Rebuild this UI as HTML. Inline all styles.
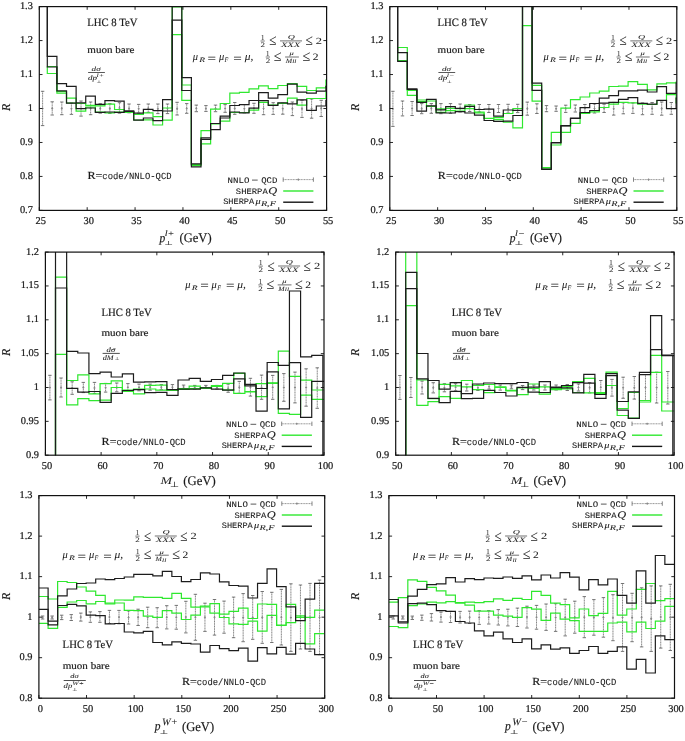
<!DOCTYPE html><html><head><meta charset="utf-8"><style>html,body{margin:0;padding:0;background:#fff;overflow:hidden;width:685px;height:741px}svg{display:block;will-change:transform}</style></head><body><svg width="685" height="741" viewBox="0 0 685 741">
<style>text{text-rendering:geometricPrecision;font-family:"Liberation Serif", serif;fill:#1a1a1a;stroke:#1a1a1a;stroke-width:0.18px}.tl{font-size:10.4px;stroke-width:0.22px}.lab{font-size:12px}.it{font-style:italic}.mono{font-family:"Liberation Mono", monospace;font-size:9px}</style>
<rect width="685" height="741" fill="#fff"/>
<defs>
<clipPath id="cp1"><rect x="39.3" y="6.6" width="287.3" height="203.8"/></clipPath>
<clipPath id="cp2"><rect x="389.8" y="6.6" width="287" height="203.8"/></clipPath>
<clipPath id="cp3"><rect x="45.4" y="252.1" width="278.6" height="203.1"/></clipPath>
<clipPath id="cp4"><rect x="395.7" y="252.1" width="278.4" height="203.1"/></clipPath>
<clipPath id="cp5"><rect x="38.9" y="495.6" width="285.8" height="202.6"/></clipPath>
<clipPath id="cp6"><rect x="388.9" y="495.6" width="285.6" height="202.6"/></clipPath>
</defs>
<g clip-path="url(#cp1)"><path d="M42.6 91.3V125.6M52.21 101.8V115M61.81 102V114.7M71.42 103V114.4M81.03 101V116.1M90.63 102V114.7M100.24 103.7V113.2M109.85 103.7V113.5M119.46 102.7V113.2M129.06 104V112.8M138.67 104.4V113.2M148.28 104V112.3M157.88 104V113.6M167.49 104V113.6M177.1 102.3V115M186.7 103.6V113.3M196.31 105.1V111.7M205.92 105.6V111.4M215.53 105.1V111.7M225.13 104.6V112.3M234.74 102.5V114.3M244.35 104.6V112.9M253.95 103.3V113.3M263.56 102.4V114.7M273.17 102.7V114.4M282.77 103.1V114.2M292.38 102V115.6M301.99 100.3V117.4M311.6 99V118.2M321.2 100.3V116.5" stroke="#777" stroke-width="0.9" stroke-dasharray="1.2 0.45" fill="none"/><path d="M40.9 91.3h3.4M40.9 125.6h3.4M50.51 101.8h3.4M50.51 115h3.4M60.11 102h3.4M60.11 114.7h3.4M69.72 103h3.4M69.72 114.4h3.4M79.33 101h3.4M79.33 116.1h3.4M88.93 102h3.4M88.93 114.7h3.4M98.54 103.7h3.4M98.54 113.2h3.4M108.15 103.7h3.4M108.15 113.5h3.4M117.76 102.7h3.4M117.76 113.2h3.4M127.36 104h3.4M127.36 112.8h3.4M136.97 104.4h3.4M136.97 113.2h3.4M146.58 104h3.4M146.58 112.3h3.4M156.18 104h3.4M156.18 113.6h3.4M165.79 104h3.4M165.79 113.6h3.4M175.4 102.3h3.4M175.4 115h3.4M185 103.6h3.4M185 113.3h3.4M194.61 105.1h3.4M194.61 111.7h3.4M204.22 105.6h3.4M204.22 111.4h3.4M213.83 105.1h3.4M213.83 111.7h3.4M223.43 104.6h3.4M223.43 112.3h3.4M233.04 102.5h3.4M233.04 114.3h3.4M242.65 104.6h3.4M242.65 112.9h3.4M252.25 103.3h3.4M252.25 113.3h3.4M261.86 102.4h3.4M261.86 114.7h3.4M271.47 102.7h3.4M271.47 114.4h3.4M281.07 103.1h3.4M281.07 114.2h3.4M290.68 102h3.4M290.68 115.6h3.4M300.29 100.3h3.4M300.29 117.4h3.4M309.9 99h3.4M309.9 118.2h3.4M319.5 100.3h3.4M319.5 116.5h3.4" stroke="#666" stroke-width="0.9" fill="none"/><path d="M42.6 107.15l1.2 1.3-1.2 1.3-1.2-1.3zM52.21 107.1l1.2 1.3-1.2 1.3-1.2-1.3zM61.81 107.05l1.2 1.3-1.2 1.3-1.2-1.3zM71.42 107.4l1.2 1.3-1.2 1.3-1.2-1.3zM81.03 107.25l1.2 1.3-1.2 1.3-1.2-1.3zM90.63 107.05l1.2 1.3-1.2 1.3-1.2-1.3zM100.24 107.15l1.2 1.3-1.2 1.3-1.2-1.3zM109.85 107.3l1.2 1.3-1.2 1.3-1.2-1.3zM119.46 106.65l1.2 1.3-1.2 1.3-1.2-1.3zM129.06 107.1l1.2 1.3-1.2 1.3-1.2-1.3zM138.67 107.5l1.2 1.3-1.2 1.3-1.2-1.3zM148.28 106.85l1.2 1.3-1.2 1.3-1.2-1.3zM157.88 107.5l1.2 1.3-1.2 1.3-1.2-1.3zM167.49 107.5l1.2 1.3-1.2 1.3-1.2-1.3zM177.1 107.35l1.2 1.3-1.2 1.3-1.2-1.3zM186.7 107.15l1.2 1.3-1.2 1.3-1.2-1.3zM196.31 107.1l1.2 1.3-1.2 1.3-1.2-1.3zM205.92 107.2l1.2 1.3-1.2 1.3-1.2-1.3zM215.53 107.1l1.2 1.3-1.2 1.3-1.2-1.3zM225.13 107.15l1.2 1.3-1.2 1.3-1.2-1.3zM234.74 107.1l1.2 1.3-1.2 1.3-1.2-1.3zM244.35 107.45l1.2 1.3-1.2 1.3-1.2-1.3zM253.95 107l1.2 1.3-1.2 1.3-1.2-1.3zM263.56 107.25l1.2 1.3-1.2 1.3-1.2-1.3zM273.17 107.25l1.2 1.3-1.2 1.3-1.2-1.3zM282.77 107.35l1.2 1.3-1.2 1.3-1.2-1.3zM292.38 107.5l1.2 1.3-1.2 1.3-1.2-1.3zM301.99 107.55l1.2 1.3-1.2 1.3-1.2-1.3zM311.6 107.3l1.2 1.3-1.2 1.3-1.2-1.3zM321.2 107.1l1.2 1.3-1.2 1.3-1.2-1.3z" fill="#888"/></g>
<path d="M47.3 66.5H56.91V91.5H66.51V98.2H76.12V103.5H85.73V105.4H95.33V105.8H104.94V104.1H114.55V109.5H124.16V111.5H133.76V114.3H143.37V112.9H152.98V116.7H162.58V108H172.19V6.9H181.8V85H191.4V164.5H201.01V130.6H210.62V109.2H220.23V103.5H229.83V93.2H239.44V92.3H249.05V88.8H258.65V85.9H268.26V88.6H277.87V85.5H287.47V83.6H297.08V86.3H306.69V90.5H316.3V87.8H325.9V80.1H335.51" stroke="#2fe82f" stroke-width="1.2" fill="none" clip-path="url(#cp1)"/>
<path d="M47.3 66.5V73.5H56.91V93.1H66.51V103H76.12V111.1H85.73V107H95.33V112H104.94V112.8H114.55V112H124.16V112.5H133.76V120H143.37V119.8H152.98V125H162.58V120.2H172.19V34.6H181.8V100.4H191.4V165.4H201.01V143.9H210.62V124H220.23V121.2H229.83V112.5H239.44V112.5H249.05V110.1H258.65V102.4H268.26V105H277.87V103.3H287.47V98.1H297.08V105.1H306.69V98.5H316.3V98.5H325.9V92H335.51" stroke="#2fe82f" stroke-width="1.2" fill="none" clip-path="url(#cp1)"/>
<path d="M39.3 -20H47.3V56.3H56.91V83.7H66.51V86.3H76.12V102.9H85.73V96.2H95.33V104.3H104.94V100.6H114.55V101.2H124.16V110.8H133.76V113.2H143.37V109.4H152.98V110.6H162.58V99.6H172.19V-20H181.8V77.6H191.4V163.8H201.01V137.8H210.62V123.5H220.23V116.2H229.83V105.5H239.44V104.6H249.05V100.5H258.65V92.6H268.26V98.2H277.87V94.6H287.47V84.1H297.08V92.2H306.69V93.1H316.3V91.1H325.9V86.3H335.51" stroke="#1c1c1c" stroke-width="1.2" fill="none" clip-path="url(#cp1)"/>
<path d="M39.3 -20H47.3V67H56.91V90.9H66.51V103.2H76.12V108.7H85.73V108H95.33V112.4H104.94V112H114.55V112.3H124.16V111.5H133.76V120.2H143.37V118H152.98V120.6H162.58V111H172.19V20.1H181.8V90.5H191.4V166.9H201.01V139.3H210.62V129.6H220.23V118H229.83V112H239.44V112.9H249.05V108.1H258.65V100.6H268.26V105.3H277.87V102.9H287.47V103.8H297.08V99.8H306.69V110.3H316.3V106H325.9V100.3H335.51" stroke="#1c1c1c" stroke-width="1.2" fill="none" clip-path="url(#cp1)"/>
<path d="M39.3 210.4v-3.2M39.3 6.6v3.2M87.18 210.4v-3.2M87.18 6.6v3.2M135.07 210.4v-3.2M135.07 6.6v3.2M182.95 210.4v-3.2M182.95 6.6v3.2M230.83 210.4v-3.2M230.83 6.6v3.2M278.72 210.4v-3.2M278.72 6.6v3.2M326.6 210.4v-3.2M326.6 6.6v3.2M39.3 210.4h3.2M326.6 210.4h-3.2M39.3 176.43h3.2M326.6 176.43h-3.2M39.3 142.47h3.2M326.6 142.47h-3.2M39.3 108.5h3.2M326.6 108.5h-3.2M39.3 74.53h3.2M326.6 74.53h-3.2M39.3 40.57h3.2M326.6 40.57h-3.2M39.3 6.6h3.2M326.6 6.6h-3.2" stroke="#111" stroke-width="0.9" fill="none"/>
<rect x="39.3" y="6.6" width="287.3" height="203.8" fill="none" stroke="#111" stroke-width="1.2"/>
<text x="40.8" y="223.8" text-anchor="middle" class="tl">25</text>
<text x="88.68" y="223.8" text-anchor="middle" class="tl">30</text>
<text x="136.57" y="223.8" text-anchor="middle" class="tl">35</text>
<text x="184.45" y="223.8" text-anchor="middle" class="tl">40</text>
<text x="232.33" y="223.8" text-anchor="middle" class="tl">45</text>
<text x="280.22" y="223.8" text-anchor="middle" class="tl">50</text>
<text x="328.1" y="223.8" text-anchor="middle" class="tl">55</text>
<text x="32.9" y="212.9" text-anchor="end" class="tl">0.7</text>
<text x="32.9" y="178.93" text-anchor="end" class="tl">0.8</text>
<text x="32.9" y="144.97" text-anchor="end" class="tl">0.9</text>
<text x="32.9" y="111" text-anchor="end" class="tl">1</text>
<text x="32.9" y="77.03" text-anchor="end" class="tl">1.1</text>
<text x="32.9" y="43.07" text-anchor="end" class="tl">1.2</text>
<text x="32.9" y="9.1" text-anchor="end" class="tl">1.3</text>
<g clip-path="url(#cp2)"><path d="M392.9 91.3V126.4M402.5 101V115.9M412.1 101.5V115.5M421.7 103.6V113.7M431.3 103.6V113.3M440.9 103.6V113.7M450.5 103.6V113.3M460.1 104V112M469.7 104.5V111.5M479.3 104.5V112M488.9 104.5V112.5M498.5 104.5V112.5M508.1 104.3V113M517.7 104.3V112.6M527.3 102.1V115.2M536.9 103.8V113.5M546.5 105.6V111.7M556.1 106V111.3M565.7 105.2V112.4M575.3 105V112M584.9 104.5V112.5M594.5 104V113M604.1 104.2V112.5M613.7 102.4V115.1M623.3 102.8V113.8M632.9 102.9V113.4M642.5 102.9V114.7M652.1 102.5V114.3M661.7 102V115.2M671.3 102.5V114.3" stroke="#777" stroke-width="0.9" stroke-dasharray="1.2 0.45" fill="none"/><path d="M391.2 91.3h3.4M391.2 126.4h3.4M400.8 101h3.4M400.8 115.9h3.4M410.4 101.5h3.4M410.4 115.5h3.4M420 103.6h3.4M420 113.7h3.4M429.6 103.6h3.4M429.6 113.3h3.4M439.2 103.6h3.4M439.2 113.7h3.4M448.8 103.6h3.4M448.8 113.3h3.4M458.4 104h3.4M458.4 112h3.4M468 104.5h3.4M468 111.5h3.4M477.6 104.5h3.4M477.6 112h3.4M487.2 104.5h3.4M487.2 112.5h3.4M496.8 104.5h3.4M496.8 112.5h3.4M506.4 104.3h3.4M506.4 113h3.4M516 104.3h3.4M516 112.6h3.4M525.6 102.1h3.4M525.6 115.2h3.4M535.2 103.8h3.4M535.2 113.5h3.4M544.8 105.6h3.4M544.8 111.7h3.4M554.4 106h3.4M554.4 111.3h3.4M564 105.2h3.4M564 112.4h3.4M573.6 105h3.4M573.6 112h3.4M583.2 104.5h3.4M583.2 112.5h3.4M592.8 104h3.4M592.8 113h3.4M602.4 104.2h3.4M602.4 112.5h3.4M612 102.4h3.4M612 115.1h3.4M621.6 102.8h3.4M621.6 113.8h3.4M631.2 102.9h3.4M631.2 113.4h3.4M640.8 102.9h3.4M640.8 114.7h3.4M650.4 102.5h3.4M650.4 114.3h3.4M660 102h3.4M660 115.2h3.4M669.6 102.5h3.4M669.6 114.3h3.4" stroke="#666" stroke-width="0.9" fill="none"/><path d="M392.9 107.55l1.2 1.3-1.2 1.3-1.2-1.3zM402.5 107.15l1.2 1.3-1.2 1.3-1.2-1.3zM412.1 107.2l1.2 1.3-1.2 1.3-1.2-1.3zM421.7 107.35l1.2 1.3-1.2 1.3-1.2-1.3zM431.3 107.15l1.2 1.3-1.2 1.3-1.2-1.3zM440.9 107.35l1.2 1.3-1.2 1.3-1.2-1.3zM450.5 107.15l1.2 1.3-1.2 1.3-1.2-1.3zM460.1 106.7l1.2 1.3-1.2 1.3-1.2-1.3zM469.7 106.7l1.2 1.3-1.2 1.3-1.2-1.3zM479.3 106.95l1.2 1.3-1.2 1.3-1.2-1.3zM488.9 107.2l1.2 1.3-1.2 1.3-1.2-1.3zM498.5 107.2l1.2 1.3-1.2 1.3-1.2-1.3zM508.1 107.35l1.2 1.3-1.2 1.3-1.2-1.3zM517.7 107.15l1.2 1.3-1.2 1.3-1.2-1.3zM527.3 107.35l1.2 1.3-1.2 1.3-1.2-1.3zM536.9 107.35l1.2 1.3-1.2 1.3-1.2-1.3zM546.5 107.35l1.2 1.3-1.2 1.3-1.2-1.3zM556.1 107.35l1.2 1.3-1.2 1.3-1.2-1.3zM565.7 107.5l1.2 1.3-1.2 1.3-1.2-1.3zM575.3 107.2l1.2 1.3-1.2 1.3-1.2-1.3zM584.9 107.2l1.2 1.3-1.2 1.3-1.2-1.3zM594.5 107.2l1.2 1.3-1.2 1.3-1.2-1.3zM604.1 107.05l1.2 1.3-1.2 1.3-1.2-1.3zM613.7 107.45l1.2 1.3-1.2 1.3-1.2-1.3zM623.3 107l1.2 1.3-1.2 1.3-1.2-1.3zM632.9 106.85l1.2 1.3-1.2 1.3-1.2-1.3zM642.5 107.5l1.2 1.3-1.2 1.3-1.2-1.3zM652.1 107.1l1.2 1.3-1.2 1.3-1.2-1.3zM661.7 107.3l1.2 1.3-1.2 1.3-1.2-1.3zM671.3 107.1l1.2 1.3-1.2 1.3-1.2-1.3z" fill="#888"/></g>
<path d="M397.7 47.5H407.3V90.5H416.9V100H426.5V101H436.1V108.9H445.7V108.3H455.3V108.7H464.9V105H474.5V112.1H484.1V118.3H493.7V117.6H503.3V113.5H512.9V108.5H522.5V-20H532.1V85.3H541.7V167.7H551.3V132.3H560.9V108.1H570.5V99.6H580.1V97H589.7V93H599.3V91.2H608.9V86.5H618.5V86.2H628.1V81.6H637.7V84.3H647.3V89.9H656.9V83.8H666.5V82.9H676.1V82H685.7" stroke="#2fe82f" stroke-width="1.2" fill="none" clip-path="url(#cp2)"/>
<path d="M397.7 47.5V60.7H407.3V95.3H416.9V101.5H426.5V106.3H436.1V112.4H445.7V110.7H455.3V111H464.9V108.6H474.5V113H484.1V118.5H493.7V119.6H503.3V122.2H512.9V127.9H522.5V25.6H532.1V101.2H541.7V168H551.3V145H560.9V132.3H570.5V123.4H580.1V113.3H589.7V111.9H599.3V107.5H608.9V104.2H618.5V102.4H628.1V102.9H637.7V104.2H647.3V104.5H656.9V100.5H666.5V94.6H676.1V103H685.7" stroke="#2fe82f" stroke-width="1.2" fill="none" clip-path="url(#cp2)"/>
<path d="M389.8 -20H397.7V52.6H407.3V88.8H416.9V102.3H426.5V99.3H436.1V109.8H445.7V106.6H455.3V108.3H464.9V106.3H474.5V109.5H484.1V109.1H493.7V116.1H503.3V110H512.9V110.4H522.5V-20H532.1V83.2H541.7V169H551.3V142.5H560.9V125.6H570.5V118H580.1V107.7H589.7V103.5H599.3V98.2H608.9V95.6H618.5V90.8H628.1V90.8H637.7V90.2H647.3V92H656.9V86.7H666.5V93.3H676.1V83H685.7" stroke="#1c1c1c" stroke-width="1.2" fill="none" clip-path="url(#cp2)"/>
<path d="M389.8 -20H397.7V61.4H407.3V89.5H416.9V111.1H426.5V105.8H436.1V112.8H445.7V113H455.3V111.7H464.9V113H474.5V115.2H484.1V120.5H493.7V121.3H503.3V121.1H512.9V115.5H522.5V-20H532.1V90.4H541.7V169.5H551.3V143H560.9V126H570.5V118.5H580.1V112.5H589.7V110.5H599.3V103.1H608.9V102.4H618.5V99.3H628.1V97.7H637.7V103.3H647.3V104.2H656.9V100.3H666.5V108.6H676.1V98H685.7" stroke="#1c1c1c" stroke-width="1.2" fill="none" clip-path="url(#cp2)"/>
<path d="M389.8 210.4v-3.2M389.8 6.6v3.2M437.63 210.4v-3.2M437.63 6.6v3.2M485.47 210.4v-3.2M485.47 6.6v3.2M533.3 210.4v-3.2M533.3 6.6v3.2M581.13 210.4v-3.2M581.13 6.6v3.2M628.97 210.4v-3.2M628.97 6.6v3.2M676.8 210.4v-3.2M676.8 6.6v3.2M389.8 210.4h3.2M676.8 210.4h-3.2M389.8 176.43h3.2M676.8 176.43h-3.2M389.8 142.47h3.2M676.8 142.47h-3.2M389.8 108.5h3.2M676.8 108.5h-3.2M389.8 74.53h3.2M676.8 74.53h-3.2M389.8 40.57h3.2M676.8 40.57h-3.2M389.8 6.6h3.2M676.8 6.6h-3.2" stroke="#111" stroke-width="0.9" fill="none"/>
<rect x="389.8" y="6.6" width="287" height="203.8" fill="none" stroke="#111" stroke-width="1.2"/>
<text x="391.3" y="223.8" text-anchor="middle" class="tl">25</text>
<text x="439.13" y="223.8" text-anchor="middle" class="tl">30</text>
<text x="486.97" y="223.8" text-anchor="middle" class="tl">35</text>
<text x="534.8" y="223.8" text-anchor="middle" class="tl">40</text>
<text x="582.63" y="223.8" text-anchor="middle" class="tl">45</text>
<text x="630.47" y="223.8" text-anchor="middle" class="tl">50</text>
<text x="678.3" y="223.8" text-anchor="middle" class="tl">55</text>
<text x="383.4" y="212.9" text-anchor="end" class="tl">0.7</text>
<text x="383.4" y="178.93" text-anchor="end" class="tl">0.8</text>
<text x="383.4" y="144.97" text-anchor="end" class="tl">0.9</text>
<text x="383.4" y="111" text-anchor="end" class="tl">1</text>
<text x="383.4" y="77.03" text-anchor="end" class="tl">1.1</text>
<text x="383.4" y="43.07" text-anchor="end" class="tl">1.2</text>
<text x="383.4" y="9.1" text-anchor="end" class="tl">1.3</text>
<g clip-path="url(#cp3)"><path d="M49.9 375.3V399.9M61.04 378V397M72.18 381.8V394.3M83.32 382.4V392.6M94.46 382.4V393.4M105.6 383.4V392.1M116.74 383V391.8M127.88 383.6V391M139.02 384.1V390.8M150.16 384.1V390.2M161.3 384.6V389.7M172.44 384.6V389.7M183.58 385.1V389M194.72 385.4V389M205.86 385.4V388.5M217 385.4V389M228.14 384.1V392.3M239.28 381.4V393.3M250.42 378.3V396.1M261.56 375.1V399.3M272.7 375.4V399.3M283.84 373.6V401.3M294.98 372.1V402.9M306.12 368.8V406.2M317.26 367.8V408.3" stroke="#777" stroke-width="0.9" stroke-dasharray="1.2 0.45" fill="none"/><path d="M48.2 375.3h3.4M48.2 399.9h3.4M59.34 378h3.4M59.34 397h3.4M70.48 381.8h3.4M70.48 394.3h3.4M81.62 382.4h3.4M81.62 392.6h3.4M92.76 382.4h3.4M92.76 393.4h3.4M103.9 383.4h3.4M103.9 392.1h3.4M115.04 383h3.4M115.04 391.8h3.4M126.18 383.6h3.4M126.18 391h3.4M137.32 384.1h3.4M137.32 390.8h3.4M148.46 384.1h3.4M148.46 390.2h3.4M159.6 384.6h3.4M159.6 389.7h3.4M170.74 384.6h3.4M170.74 389.7h3.4M181.88 385.1h3.4M181.88 389h3.4M193.02 385.4h3.4M193.02 389h3.4M204.16 385.4h3.4M204.16 388.5h3.4M215.3 385.4h3.4M215.3 389h3.4M226.44 384.1h3.4M226.44 392.3h3.4M237.58 381.4h3.4M237.58 393.3h3.4M248.72 378.3h3.4M248.72 396.1h3.4M259.86 375.1h3.4M259.86 399.3h3.4M271 375.4h3.4M271 399.3h3.4M282.14 373.6h3.4M282.14 401.3h3.4M293.28 372.1h3.4M293.28 402.9h3.4M304.42 368.8h3.4M304.42 406.2h3.4M315.56 367.8h3.4M315.56 408.3h3.4" stroke="#666" stroke-width="0.9" fill="none"/><path d="M49.9 386.3l1.2 1.3-1.2 1.3-1.2-1.3zM61.04 386.2l1.2 1.3-1.2 1.3-1.2-1.3zM72.18 386.75l1.2 1.3-1.2 1.3-1.2-1.3zM83.32 386.2l1.2 1.3-1.2 1.3-1.2-1.3zM94.46 386.6l1.2 1.3-1.2 1.3-1.2-1.3zM105.6 386.45l1.2 1.3-1.2 1.3-1.2-1.3zM116.74 386.1l1.2 1.3-1.2 1.3-1.2-1.3zM127.88 386l1.2 1.3-1.2 1.3-1.2-1.3zM139.02 386.15l1.2 1.3-1.2 1.3-1.2-1.3zM150.16 385.85l1.2 1.3-1.2 1.3-1.2-1.3zM161.3 385.85l1.2 1.3-1.2 1.3-1.2-1.3zM172.44 385.85l1.2 1.3-1.2 1.3-1.2-1.3zM183.58 385.75l1.2 1.3-1.2 1.3-1.2-1.3zM194.72 385.9l1.2 1.3-1.2 1.3-1.2-1.3zM205.86 385.65l1.2 1.3-1.2 1.3-1.2-1.3zM217 385.9l1.2 1.3-1.2 1.3-1.2-1.3zM228.14 386.9l1.2 1.3-1.2 1.3-1.2-1.3zM239.28 386.05l1.2 1.3-1.2 1.3-1.2-1.3zM250.42 385.9l1.2 1.3-1.2 1.3-1.2-1.3zM261.56 385.9l1.2 1.3-1.2 1.3-1.2-1.3zM272.7 386.05l1.2 1.3-1.2 1.3-1.2-1.3zM283.84 386.15l1.2 1.3-1.2 1.3-1.2-1.3zM294.98 386.2l1.2 1.3-1.2 1.3-1.2-1.3zM306.12 386.2l1.2 1.3-1.2 1.3-1.2-1.3zM317.26 386.75l1.2 1.3-1.2 1.3-1.2-1.3z" fill="#888"/></g>
<path d="M45.4 470H55.5V277.1H66.64V380.5H77.78V374.8H88.92V393.8H100.06V383.7H111.2V380.8H122.34V390H133.48V389H144.62V385.4H155.76V385.1H166.9V390.2H178.04V388.7H189.18V386.2H200.32V387.7H211.46V385.6H222.6V383.4H233.74V373.4H244.88V391.5H256.02V383.7H267.16V382.9H278.3V351.2H289.44V376.4H300.58V380.2H311.72V390H322.86V390H334" stroke="#2fe82f" stroke-width="1.2" fill="none" clip-path="url(#cp3)"/>
<path d="M45.4 470H55.5V354.3H66.64V404.8H77.78V398.6H88.92V400.7H100.06V400.2H111.2V387.5H122.34V391.3H133.48V393.8H144.62V389H155.76V390.2H166.9V390.5H178.04V389.5H189.18V388.7H200.32V388.3H211.46V386.5H222.6V389.8H233.74V393.4H244.88V392H256.02V396.6H267.16V383.3H278.3V413.3H289.44V414.3H300.58V395.1H311.72V399.4H322.86V399.4H334" stroke="#2fe82f" stroke-width="1.2" fill="none" clip-path="url(#cp3)"/>
<path d="M45.4 470H55.5V240H66.64V351.3H77.78V353H88.92V373.7H100.06V372.1H111.2V377H122.34V373.9H133.48V382.1H144.62V381.8H155.76V381.6H166.9V389.7H178.04V380H189.18V378.3H200.32V381.4H211.46V379.5H222.6V375.4H233.74V373H244.88V384.4H256.02V388.5H267.16V362.5H278.3V365.3H289.44V291H300.58V356.8H311.72V355.3H322.86V470H334" stroke="#1c1c1c" stroke-width="1.2" fill="none" clip-path="url(#cp3)"/>
<path d="M45.4 470H55.5V288H66.64V388.3H77.78V392.1H88.92V391.5H100.06V402.3H111.2V393.3H122.34V390.5H133.48V389.7H144.62V392.6H155.76V392.3H166.9V395.3H178.04V389.2H189.18V389.2H200.32V387.9H211.46V389.2H222.6V390.2H233.74V378.9H244.88V385.8H256.02V411.2H267.16V371.8H278.3V408.9H289.44V362.7H300.58V417.4H311.72V381.4H322.86V381.4H334" stroke="#1c1c1c" stroke-width="1.2" fill="none" clip-path="url(#cp3)"/>
<path d="M45.4 455.2v-3.2M45.4 252.1v3.2M101.12 455.2v-3.2M101.12 252.1v3.2M156.84 455.2v-3.2M156.84 252.1v3.2M212.56 455.2v-3.2M212.56 252.1v3.2M268.28 455.2v-3.2M268.28 252.1v3.2M324 455.2v-3.2M324 252.1v3.2M45.4 455.2h3.2M324 455.2h-3.2M45.4 421.35h3.2M324 421.35h-3.2M45.4 387.5h3.2M324 387.5h-3.2M45.4 353.65h3.2M324 353.65h-3.2M45.4 319.8h3.2M324 319.8h-3.2M45.4 285.95h3.2M324 285.95h-3.2M45.4 252.1h3.2M324 252.1h-3.2" stroke="#111" stroke-width="0.9" fill="none"/>
<rect x="45.4" y="252.1" width="278.6" height="203.1" fill="none" stroke="#111" stroke-width="1.2"/>
<text x="46.9" y="468.6" text-anchor="middle" class="tl">50</text>
<text x="102.62" y="468.6" text-anchor="middle" class="tl">60</text>
<text x="158.34" y="468.6" text-anchor="middle" class="tl">70</text>
<text x="214.06" y="468.6" text-anchor="middle" class="tl">80</text>
<text x="269.78" y="468.6" text-anchor="middle" class="tl">90</text>
<text x="325.5" y="468.6" text-anchor="middle" class="tl">100</text>
<text x="39" y="457.7" text-anchor="end" class="tl">0.9</text>
<text x="39" y="423.85" text-anchor="end" class="tl">0.95</text>
<text x="39" y="390" text-anchor="end" class="tl">1</text>
<text x="39" y="356.15" text-anchor="end" class="tl">1.05</text>
<text x="39" y="322.3" text-anchor="end" class="tl">1.1</text>
<text x="39" y="288.45" text-anchor="end" class="tl">1.15</text>
<text x="39" y="254.6" text-anchor="end" class="tl">1.2</text>
<g clip-path="url(#cp4)"><path d="M399.9 375.5V399.4M410.9 377.5V397.5M422.07 381V394M433.24 382.7V392.9M444.41 383.7V391.8M455.58 383.7V390.8M466.75 384.2V391M477.92 385V390.5M489.09 384.5V389.1M500.26 385V390.1M511.43 385V388.8M522.6 385.5V389.6M533.77 385V390M544.94 385V390M556.11 385V390M567.28 384.5V390.5M578.45 384V391M589.62 382.6V392.9M600.79 380.5V394M611.96 379.4V396.1M623.13 377.2V398.3M634.3 376.5V399.1M645.47 374.5V400.5M656.64 372.2V403M667.81 371.5V404" stroke="#777" stroke-width="0.9" stroke-dasharray="1.2 0.45" fill="none"/><path d="M398.2 375.5h3.4M398.2 399.4h3.4M409.2 377.5h3.4M409.2 397.5h3.4M420.37 381h3.4M420.37 394h3.4M431.54 382.7h3.4M431.54 392.9h3.4M442.71 383.7h3.4M442.71 391.8h3.4M453.88 383.7h3.4M453.88 390.8h3.4M465.05 384.2h3.4M465.05 391h3.4M476.22 385h3.4M476.22 390.5h3.4M487.39 384.5h3.4M487.39 389.1h3.4M498.56 385h3.4M498.56 390.1h3.4M509.73 385h3.4M509.73 388.8h3.4M520.9 385.5h3.4M520.9 389.6h3.4M532.07 385h3.4M532.07 390h3.4M543.24 385h3.4M543.24 390h3.4M554.41 385h3.4M554.41 390h3.4M565.58 384.5h3.4M565.58 390.5h3.4M576.75 384h3.4M576.75 391h3.4M587.92 382.6h3.4M587.92 392.9h3.4M599.09 380.5h3.4M599.09 394h3.4M610.26 379.4h3.4M610.26 396.1h3.4M621.43 377.2h3.4M621.43 398.3h3.4M632.6 376.5h3.4M632.6 399.1h3.4M643.77 374.5h3.4M643.77 400.5h3.4M654.94 372.2h3.4M654.94 403h3.4M666.11 371.5h3.4M666.11 404h3.4" stroke="#666" stroke-width="0.9" fill="none"/><path d="M399.9 386.15l1.2 1.3-1.2 1.3-1.2-1.3zM410.9 386.2l1.2 1.3-1.2 1.3-1.2-1.3zM422.07 386.2l1.2 1.3-1.2 1.3-1.2-1.3zM433.24 386.5l1.2 1.3-1.2 1.3-1.2-1.3zM444.41 386.45l1.2 1.3-1.2 1.3-1.2-1.3zM455.58 385.95l1.2 1.3-1.2 1.3-1.2-1.3zM466.75 386.3l1.2 1.3-1.2 1.3-1.2-1.3zM477.92 386.45l1.2 1.3-1.2 1.3-1.2-1.3zM489.09 385.5l1.2 1.3-1.2 1.3-1.2-1.3zM500.26 386.25l1.2 1.3-1.2 1.3-1.2-1.3zM511.43 385.6l1.2 1.3-1.2 1.3-1.2-1.3zM522.6 386.25l1.2 1.3-1.2 1.3-1.2-1.3zM533.77 386.2l1.2 1.3-1.2 1.3-1.2-1.3zM544.94 386.2l1.2 1.3-1.2 1.3-1.2-1.3zM556.11 386.2l1.2 1.3-1.2 1.3-1.2-1.3zM567.28 386.2l1.2 1.3-1.2 1.3-1.2-1.3zM578.45 386.2l1.2 1.3-1.2 1.3-1.2-1.3zM589.62 386.45l1.2 1.3-1.2 1.3-1.2-1.3zM600.79 385.95l1.2 1.3-1.2 1.3-1.2-1.3zM611.96 386.45l1.2 1.3-1.2 1.3-1.2-1.3zM623.13 386.45l1.2 1.3-1.2 1.3-1.2-1.3zM634.3 386.5l1.2 1.3-1.2 1.3-1.2-1.3zM645.47 386.2l1.2 1.3-1.2 1.3-1.2-1.3zM656.64 386.3l1.2 1.3-1.2 1.3-1.2-1.3zM667.81 386.45l1.2 1.3-1.2 1.3-1.2-1.3z" fill="#888"/></g>
<path d="M395.7 470H405.7V240H416.83V380H427.96V398.6H439.09V384.3H450.22V385.9H461.35V380.5H472.48V385.3H483.61V384.5H494.74V386.8H505.87V390.4H517V388H528.13V384H539.26V386.8H550.39V388.5H561.52V386.5H572.65V381.5H583.78V378.3H594.91V392.6H606.04V372.1H617.17V408.5H628.3V392.5H639.43V400.5H650.56V355.4H661.69V402H672.82V402H683.95" stroke="#2fe82f" stroke-width="1.2" fill="none" clip-path="url(#cp4)"/>
<path d="M395.7 470H405.7V305.6H416.83V405.3H427.96V401.6H439.09V396.7H450.22V398.3H461.35V386.9H472.48V389.6H483.61V392.7H494.74V387.5H505.87V391H517V394.7H528.13V388.5H539.26V394.2H550.39V389.6H561.52V388.8H572.65V392.5H583.78V392.9H594.91V393.5H606.04V385.5H617.17V415.5H628.3V418.2H639.43V402H650.56V372.4H661.69V411H672.82V411H683.95" stroke="#2fe82f" stroke-width="1.2" fill="none" clip-path="url(#cp4)"/>
<path d="M395.7 470H405.7V272.4H416.83V353.5H427.96V380.5H439.09V389.1H450.22V382.7H461.35V393.6H472.48V384H483.61V383H494.74V383.7H505.87V383.7H517V382.5H528.13V387.1H539.26V381.7H550.39V387.1H561.52V385.5H572.65V382.7H583.78V374.4H594.91V394.5H606.04V373.7H617.17V401.5H628.3V391.8H639.43V372.4H650.56V315.7H661.69V355.2H672.82V470H683.95" stroke="#1c1c1c" stroke-width="1.2" fill="none" clip-path="url(#cp4)"/>
<path d="M395.7 470H405.7V288.6H416.83V378.9H427.96V398.3H439.09V402.6H450.22V391.3H461.35V398.7H472.48V398.3H483.61V390.4H494.74V392.5H505.87V396H517V387.4H528.13V392.2H539.26V392.5H550.39V387.6H561.52V387.8H572.65V392.9H583.78V383.2H594.91V398.3H606.04V375.6H617.17V410.1H628.3V418.4H639.43V374.6H650.56V349.7H661.69V355.6H672.82V355.6H683.95" stroke="#1c1c1c" stroke-width="1.2" fill="none" clip-path="url(#cp4)"/>
<path d="M395.7 455.2v-3.2M395.7 252.1v3.2M451.38 455.2v-3.2M451.38 252.1v3.2M507.06 455.2v-3.2M507.06 252.1v3.2M562.74 455.2v-3.2M562.74 252.1v3.2M618.42 455.2v-3.2M618.42 252.1v3.2M674.1 455.2v-3.2M674.1 252.1v3.2M395.7 455.2h3.2M674.1 455.2h-3.2M395.7 421.35h3.2M674.1 421.35h-3.2M395.7 387.5h3.2M674.1 387.5h-3.2M395.7 353.65h3.2M674.1 353.65h-3.2M395.7 319.8h3.2M674.1 319.8h-3.2M395.7 285.95h3.2M674.1 285.95h-3.2M395.7 252.1h3.2M674.1 252.1h-3.2" stroke="#111" stroke-width="0.9" fill="none"/>
<rect x="395.7" y="252.1" width="278.4" height="203.1" fill="none" stroke="#111" stroke-width="1.2"/>
<text x="397.2" y="468.6" text-anchor="middle" class="tl">50</text>
<text x="452.88" y="468.6" text-anchor="middle" class="tl">60</text>
<text x="508.56" y="468.6" text-anchor="middle" class="tl">70</text>
<text x="564.24" y="468.6" text-anchor="middle" class="tl">80</text>
<text x="619.92" y="468.6" text-anchor="middle" class="tl">90</text>
<text x="675.6" y="468.6" text-anchor="middle" class="tl">100</text>
<text x="389.3" y="457.7" text-anchor="end" class="tl">0.9</text>
<text x="389.3" y="423.85" text-anchor="end" class="tl">0.95</text>
<text x="389.3" y="390" text-anchor="end" class="tl">1</text>
<text x="389.3" y="356.15" text-anchor="end" class="tl">1.05</text>
<text x="389.3" y="322.3" text-anchor="end" class="tl">1.1</text>
<text x="389.3" y="288.45" text-anchor="end" class="tl">1.15</text>
<text x="389.3" y="254.6" text-anchor="end" class="tl">1.2</text>
<g clip-path="url(#cp5)"><path d="M42.6 616V619M52.15 616V619M61.7 615.2V619.6M71.25 614.6V620.5M80.8 613.1V621.1M90.35 611.9V622.3M99.9 611.6V622.3M109.45 610.4V623.5M119 610.4V623.8M128.55 610.9V624M138.1 609.2V625.5M147.65 607.2V627.7M157.2 607.7V627.7M166.75 605.7V628.9M176.3 605.4V629.2M185.85 601.3V632.9M195.4 594.3V640.3M204.95 603.2V631.4M214.5 599.5V635.1M224.05 601.1V633.2M233.6 597.1V637.7M243.15 593.6V641.7M252.7 595.5V639.3M262.25 591.5V643.3M271.8 592.3V642.5M281.35 589.4V645M290.9 583.8V651.4M300.45 585V649M310 583.4V651.4M319.55 580.1V654.7" stroke="#777" stroke-width="0.9" stroke-dasharray="1.2 0.45" fill="none"/><path d="M40.9 616h3.4M40.9 619h3.4M50.45 616h3.4M50.45 619h3.4M60 615.2h3.4M60 619.6h3.4M69.55 614.6h3.4M69.55 620.5h3.4M79.1 613.1h3.4M79.1 621.1h3.4M88.65 611.9h3.4M88.65 622.3h3.4M98.2 611.6h3.4M98.2 622.3h3.4M107.75 610.4h3.4M107.75 623.5h3.4M117.3 610.4h3.4M117.3 623.8h3.4M126.85 610.9h3.4M126.85 624h3.4M136.4 609.2h3.4M136.4 625.5h3.4M145.95 607.2h3.4M145.95 627.7h3.4M155.5 607.7h3.4M155.5 627.7h3.4M165.05 605.7h3.4M165.05 628.9h3.4M174.6 605.4h3.4M174.6 629.2h3.4M184.15 601.3h3.4M184.15 632.9h3.4M193.7 594.3h3.4M193.7 640.3h3.4M203.25 603.2h3.4M203.25 631.4h3.4M212.8 599.5h3.4M212.8 635.1h3.4M222.35 601.1h3.4M222.35 633.2h3.4M231.9 597.1h3.4M231.9 637.7h3.4M241.45 593.6h3.4M241.45 641.7h3.4M251 595.5h3.4M251 639.3h3.4M260.55 591.5h3.4M260.55 643.3h3.4M270.1 592.3h3.4M270.1 642.5h3.4M279.65 589.4h3.4M279.65 645h3.4M289.2 583.8h3.4M289.2 651.4h3.4M298.75 585h3.4M298.75 649h3.4M308.3 583.4h3.4M308.3 651.4h3.4M317.85 580.1h3.4M317.85 654.7h3.4" stroke="#666" stroke-width="0.9" fill="none"/><path d="M42.6 616.2l1.2 1.3-1.2 1.3-1.2-1.3zM52.15 616.2l1.2 1.3-1.2 1.3-1.2-1.3zM61.7 616.1l1.2 1.3-1.2 1.3-1.2-1.3zM71.25 616.25l1.2 1.3-1.2 1.3-1.2-1.3zM80.8 615.8l1.2 1.3-1.2 1.3-1.2-1.3zM90.35 615.8l1.2 1.3-1.2 1.3-1.2-1.3zM99.9 615.65l1.2 1.3-1.2 1.3-1.2-1.3zM109.45 615.65l1.2 1.3-1.2 1.3-1.2-1.3zM119 615.8l1.2 1.3-1.2 1.3-1.2-1.3zM128.55 616.15l1.2 1.3-1.2 1.3-1.2-1.3zM138.1 616.05l1.2 1.3-1.2 1.3-1.2-1.3zM147.65 616.15l1.2 1.3-1.2 1.3-1.2-1.3zM157.2 616.4l1.2 1.3-1.2 1.3-1.2-1.3zM166.75 616l1.2 1.3-1.2 1.3-1.2-1.3zM176.3 616l1.2 1.3-1.2 1.3-1.2-1.3zM185.85 615.8l1.2 1.3-1.2 1.3-1.2-1.3zM195.4 616l1.2 1.3-1.2 1.3-1.2-1.3zM204.95 616l1.2 1.3-1.2 1.3-1.2-1.3zM214.5 616l1.2 1.3-1.2 1.3-1.2-1.3zM224.05 615.85l1.2 1.3-1.2 1.3-1.2-1.3zM233.6 616.1l1.2 1.3-1.2 1.3-1.2-1.3zM243.15 616.35l1.2 1.3-1.2 1.3-1.2-1.3zM252.7 616.1l1.2 1.3-1.2 1.3-1.2-1.3zM262.25 616.1l1.2 1.3-1.2 1.3-1.2-1.3zM271.8 616.1l1.2 1.3-1.2 1.3-1.2-1.3zM281.35 615.9l1.2 1.3-1.2 1.3-1.2-1.3zM290.9 616.3l1.2 1.3-1.2 1.3-1.2-1.3zM300.45 615.7l1.2 1.3-1.2 1.3-1.2-1.3zM310 616.1l1.2 1.3-1.2 1.3-1.2-1.3zM319.55 616.1l1.2 1.3-1.2 1.3-1.2-1.3z" fill="#888"/></g>
<path d="M38.9 596.5H48.1V599H57.62V581.5H67.14V582.5H76.66V587H86.18V591.2H95.7V595.3H105.22V603.8H114.74V600H124.26V600.2H133.78V596.8H143.3V597.3H152.82V597.3H162.34V598.3H171.86V593.3H181.38V598.3H190.9V607.2H200.42V606.2H209.94V603.7H219.46V614.2H228.98V611.4H238.5V608.2H248.02V618.5H257.54V604H267.06V604.4H276.58V625.5H286.1V604.4H295.62V615.8H305.14V617.4H314.66V610.1H324.18" stroke="#2fe82f" stroke-width="1.2" fill="none" clip-path="url(#cp5)"/>
<path d="M38.9 623.3H48.1V628.4H57.62V607.4H67.14V602H76.66V600.5H86.18V603.8H95.7V601.5H105.22V603H114.74V603H124.26V610.3H133.78V610.6H143.3V616.1H152.82V617.3H162.34V610.6H171.86V613.2H181.38V619.5H190.9V615.1H200.42V607H209.94V613.2H219.46V617.5H228.98V623.9H238.5V624.4H248.02V621.1H257.54V631.2H267.06V615.3H276.58V625H286.1V622.7H295.62V617.4H305.14V643.8H314.66V633.6H324.18" stroke="#2fe82f" stroke-width="1.2" fill="none" clip-path="url(#cp5)"/>
<path d="M38.9 588H48.1V621.2H57.62V595.8H67.14V589H76.66V583.5H86.18V583H95.7V579H105.22V579.6H114.74V578.5H124.26V577H133.78V574.3H143.3V574.3H152.82V575.8H162.34V571.3H171.86V576.5H181.38V581.7H190.9V579.5H200.42V572.8H209.94V574H219.46V581.8H228.98V585.5H238.5V586.1H248.02V598H257.54V583.4H267.06V568.8H276.58V586.6H286.1V606.9H295.62V620.6H305.14V599.1H314.66V583.4H324.18" stroke="#1c1c1c" stroke-width="1.2" fill="none" clip-path="url(#cp5)"/>
<path d="M38.9 609.3H48.1V624.9H57.62V605.5H67.14V604.4H76.66V605.8H86.18V615.2H95.7V615.6H105.22V623.8H114.74V623.5H124.26V632H133.78V632.9H143.3V631.4H152.82V642.5H162.34V644.8H171.86V641.8H181.38V643.3H190.9V644H200.42V652.2H209.94V645.5H219.46V648.6H228.98V650.6H238.5V648.2H248.02V661.2H257.54V647.7H267.06V653.9H276.58V647.4H286.1V654.2H295.62V643.3H305.14V649H314.66V654.7H324.18" stroke="#1c1c1c" stroke-width="1.2" fill="none" clip-path="url(#cp5)"/>
<path d="M38.9 698.2v-3.2M38.9 495.6v3.2M86.53 698.2v-3.2M86.53 495.6v3.2M134.17 698.2v-3.2M134.17 495.6v3.2M181.8 698.2v-3.2M181.8 495.6v3.2M229.43 698.2v-3.2M229.43 495.6v3.2M277.07 698.2v-3.2M277.07 495.6v3.2M324.7 698.2v-3.2M324.7 495.6v3.2M38.9 698.2h3.2M324.7 698.2h-3.2M38.9 657.68h3.2M324.7 657.68h-3.2M38.9 617.16h3.2M324.7 617.16h-3.2M38.9 576.64h3.2M324.7 576.64h-3.2M38.9 536.12h3.2M324.7 536.12h-3.2M38.9 495.6h3.2M324.7 495.6h-3.2" stroke="#111" stroke-width="0.9" fill="none"/>
<rect x="38.9" y="495.6" width="285.8" height="202.6" fill="none" stroke="#111" stroke-width="1.2"/>
<text x="40.4" y="711.6" text-anchor="middle" class="tl">0</text>
<text x="88.03" y="711.6" text-anchor="middle" class="tl">50</text>
<text x="135.67" y="711.6" text-anchor="middle" class="tl">100</text>
<text x="183.3" y="711.6" text-anchor="middle" class="tl">150</text>
<text x="230.93" y="711.6" text-anchor="middle" class="tl">200</text>
<text x="278.57" y="711.6" text-anchor="middle" class="tl">250</text>
<text x="326.2" y="711.6" text-anchor="middle" class="tl">300</text>
<text x="32.5" y="700.7" text-anchor="end" class="tl">0.8</text>
<text x="32.5" y="660.18" text-anchor="end" class="tl">0.9</text>
<text x="32.5" y="619.66" text-anchor="end" class="tl">1</text>
<text x="32.5" y="579.14" text-anchor="end" class="tl">1.1</text>
<text x="32.5" y="538.62" text-anchor="end" class="tl">1.2</text>
<text x="32.5" y="498.1" text-anchor="end" class="tl">1.3</text>
<g clip-path="url(#cp6)"><path d="M393.2 616V619M402.75 616V619M412.31 616.1V619.5M421.87 615.1V620.3M431.42 613.6V621M440.97 612.1V622.1M450.53 611.4V622.5M460.08 611.4V623M469.64 611.1V623.5M479.19 610.6V624.4M488.75 610.6V624M498.3 609.6V625M507.86 609.2V625.9M517.41 608.1V626.5M526.97 606.2V628M536.52 605.4V629.2M546.08 604V630.4M555.63 603.7V631.4M565.19 599.2V635.9M574.75 601.2V633.2M584.3 596.6V637.7M593.86 599.6V635.2M603.41 597.6V637.2M612.96 594.7V640.7M622.52 583.5V651.4M632.08 593.3V641.7M641.63 587.8V646.9M651.18 585.9V651.4M660.74 585.9V648.1M670.29 584.3V650.5" stroke="#777" stroke-width="0.9" stroke-dasharray="1.2 0.45" fill="none"/><path d="M391.5 616h3.4M391.5 619h3.4M401.06 616h3.4M401.06 619h3.4M410.61 616.1h3.4M410.61 619.5h3.4M420.17 615.1h3.4M420.17 620.3h3.4M429.72 613.6h3.4M429.72 621h3.4M439.27 612.1h3.4M439.27 622.1h3.4M448.83 611.4h3.4M448.83 622.5h3.4M458.38 611.4h3.4M458.38 623h3.4M467.94 611.1h3.4M467.94 623.5h3.4M477.5 610.6h3.4M477.5 624.4h3.4M487.05 610.6h3.4M487.05 624h3.4M496.6 609.6h3.4M496.6 625h3.4M506.16 609.2h3.4M506.16 625.9h3.4M515.71 608.1h3.4M515.71 626.5h3.4M525.27 606.2h3.4M525.27 628h3.4M534.82 605.4h3.4M534.82 629.2h3.4M544.38 604h3.4M544.38 630.4h3.4M553.93 603.7h3.4M553.93 631.4h3.4M563.49 599.2h3.4M563.49 635.9h3.4M573.04 601.2h3.4M573.04 633.2h3.4M582.6 596.6h3.4M582.6 637.7h3.4M592.15 599.6h3.4M592.15 635.2h3.4M601.71 597.6h3.4M601.71 637.2h3.4M611.26 594.7h3.4M611.26 640.7h3.4M620.82 583.5h3.4M620.82 651.4h3.4M630.38 593.3h3.4M630.38 641.7h3.4M639.93 587.8h3.4M639.93 646.9h3.4M649.48 585.9h3.4M649.48 651.4h3.4M659.04 585.9h3.4M659.04 648.1h3.4M668.59 584.3h3.4M668.59 650.5h3.4" stroke="#666" stroke-width="0.9" fill="none"/><path d="M393.2 616.2l1.2 1.3-1.2 1.3-1.2-1.3zM402.75 616.2l1.2 1.3-1.2 1.3-1.2-1.3zM412.31 616.5l1.2 1.3-1.2 1.3-1.2-1.3zM421.87 616.4l1.2 1.3-1.2 1.3-1.2-1.3zM431.42 616l1.2 1.3-1.2 1.3-1.2-1.3zM440.97 615.8l1.2 1.3-1.2 1.3-1.2-1.3zM450.53 615.65l1.2 1.3-1.2 1.3-1.2-1.3zM460.08 615.9l1.2 1.3-1.2 1.3-1.2-1.3zM469.64 616l1.2 1.3-1.2 1.3-1.2-1.3zM479.19 616.2l1.2 1.3-1.2 1.3-1.2-1.3zM488.75 616l1.2 1.3-1.2 1.3-1.2-1.3zM498.3 616l1.2 1.3-1.2 1.3-1.2-1.3zM507.86 616.25l1.2 1.3-1.2 1.3-1.2-1.3zM517.41 616l1.2 1.3-1.2 1.3-1.2-1.3zM526.97 615.8l1.2 1.3-1.2 1.3-1.2-1.3zM536.52 616l1.2 1.3-1.2 1.3-1.2-1.3zM546.08 615.9l1.2 1.3-1.2 1.3-1.2-1.3zM555.63 616.25l1.2 1.3-1.2 1.3-1.2-1.3zM565.19 616.25l1.2 1.3-1.2 1.3-1.2-1.3zM574.75 615.9l1.2 1.3-1.2 1.3-1.2-1.3zM584.3 615.85l1.2 1.3-1.2 1.3-1.2-1.3zM593.86 616.1l1.2 1.3-1.2 1.3-1.2-1.3zM603.41 616.1l1.2 1.3-1.2 1.3-1.2-1.3zM612.96 616.4l1.2 1.3-1.2 1.3-1.2-1.3zM622.52 616.15l1.2 1.3-1.2 1.3-1.2-1.3zM632.08 616.2l1.2 1.3-1.2 1.3-1.2-1.3zM641.63 616.05l1.2 1.3-1.2 1.3-1.2-1.3zM651.18 617.35l1.2 1.3-1.2 1.3-1.2-1.3zM660.74 615.7l1.2 1.3-1.2 1.3-1.2-1.3zM670.29 616.1l1.2 1.3-1.2 1.3-1.2-1.3z" fill="#888"/></g>
<path d="M388.9 602.2H398.3V597.7H407.82V579.9H417.34V581.4H426.86V587.3H436.38V590.9H445.9V595.1H455.42V602.5H464.94V602.2H474.46V602.6H483.98V601.7H493.5V598.8H503.02V600.3H512.54V598.3H522.06V599.5H531.58V591.4H541.1V595.4H550.62V603.2H560.14V604.6H569.66V617.8H579.18V609H588.7V615.6H598.22V613.3H607.74V591.4H617.26V615.2H626.78V609H636.3V589.4H645.82V583.5H655.34V600.6H664.86V598.6H674.38" stroke="#2fe82f" stroke-width="1.2" fill="none" clip-path="url(#cp6)"/>
<path d="M388.9 626.5H398.3V627.7H407.82V605.7H417.34V604H426.86V602.2H436.38V602.8H445.9V601.7H455.42V603.2H464.94V605.1H474.46V611.2H483.98V611.1H493.5V615.1H503.02V616.1H512.54V617.3H522.06V607.7H531.58V609.2H541.1V620.3H550.62V613.2H560.14V619.1H569.66V620.7H579.18V631.3H588.7V631.3H598.22V631.3H607.74V623H617.26V622.1H626.78V631.9H636.3V622.1H645.82V628.5H655.34V621.1H664.86V606.4H674.38" stroke="#2fe82f" stroke-width="1.2" fill="none" clip-path="url(#cp6)"/>
<path d="M388.9 599.5H398.3V621.8H407.82V596.2H417.34V589.4H426.86V584.7H436.38V583.9H445.9V577.6H455.42V582H464.94V578.7H474.46V579.7H483.98V578H493.5V578.4H503.02V577H512.54V578.4H522.06V575.8H531.58V579.9H541.1V575H550.62V578H560.14V572.7H569.66V577.1H579.18V589.8H588.7V579.6H598.22V584.9H607.74V579H617.26V595.3H626.78V603.1H636.3V570.8H645.82V603.1H655.34V555.5H664.86V564.4H674.38" stroke="#1c1c1c" stroke-width="1.2" fill="none" clip-path="url(#cp6)"/>
<path d="M388.9 615.8H398.3V623H407.82V603.7H417.34V603.2H426.86V604.7H436.38V610.6H445.9V611.4H455.42V621.5H464.94V623H474.46V630.8H483.98V635.9H493.5V632.2H503.02V638.8H512.54V642.5H522.06V638.8H531.58V648.8H541.1V644.8H550.62V649.2H560.14V647.8H569.66V653.4H579.18V650.5H588.7V646.5H598.22V653.4H607.74V651.4H617.26V646.9H626.78V669.1H636.3V659.3H645.82V673H655.34V635.8H664.86V639.7H674.38" stroke="#1c1c1c" stroke-width="1.2" fill="none" clip-path="url(#cp6)"/>
<path d="M388.9 698.2v-3.2M388.9 495.6v3.2M436.5 698.2v-3.2M436.5 495.6v3.2M484.1 698.2v-3.2M484.1 495.6v3.2M531.7 698.2v-3.2M531.7 495.6v3.2M579.3 698.2v-3.2M579.3 495.6v3.2M626.9 698.2v-3.2M626.9 495.6v3.2M674.5 698.2v-3.2M674.5 495.6v3.2M388.9 698.2h3.2M674.5 698.2h-3.2M388.9 657.68h3.2M674.5 657.68h-3.2M388.9 617.16h3.2M674.5 617.16h-3.2M388.9 576.64h3.2M674.5 576.64h-3.2M388.9 536.12h3.2M674.5 536.12h-3.2M388.9 495.6h3.2M674.5 495.6h-3.2" stroke="#111" stroke-width="0.9" fill="none"/>
<rect x="388.9" y="495.6" width="285.6" height="202.6" fill="none" stroke="#111" stroke-width="1.2"/>
<text x="390.4" y="711.6" text-anchor="middle" class="tl">0</text>
<text x="438" y="711.6" text-anchor="middle" class="tl">50</text>
<text x="485.6" y="711.6" text-anchor="middle" class="tl">100</text>
<text x="533.2" y="711.6" text-anchor="middle" class="tl">150</text>
<text x="580.8" y="711.6" text-anchor="middle" class="tl">200</text>
<text x="628.4" y="711.6" text-anchor="middle" class="tl">250</text>
<text x="676" y="711.6" text-anchor="middle" class="tl">300</text>
<text x="382.5" y="700.7" text-anchor="end" class="tl">0.8</text>
<text x="382.5" y="660.18" text-anchor="end" class="tl">0.9</text>
<text x="382.5" y="619.66" text-anchor="end" class="tl">1</text>
<text x="382.5" y="579.14" text-anchor="end" class="tl">1.1</text>
<text x="382.5" y="538.62" text-anchor="end" class="tl">1.2</text>
<text x="382.5" y="498.1" text-anchor="end" class="tl">1.3</text>
<text x="87.18" y="26.19" style='font-size:11.19px' textLength="50.32" lengthAdjust="spacingAndGlyphs">LHC 8 TeV</text>
<text x="87.28" y="53.3" style='font-size:10px' textLength="47.05" lengthAdjust="spacingAndGlyphs">muon bare</text>
<text x="91.63" y="70.93" style='font-size:6.57px;stroke-width:0.06px;font-style:italic' textLength="9.03" lengthAdjust="spacingAndGlyphs">dσ</text>
<line x1="88.1" y1="72.5" x2="104.9" y2="72.5" stroke="#222" stroke-width="0.75" />
<text x="87.93" y="79.85" style='font-size:6.89px;stroke-width:0.06px;font-style:italic' textLength="9.04" lengthAdjust="spacingAndGlyphs">dp</text>
<text x="96.5" y="77" style='font-size:4.93px;stroke-width:0.04px;font-style:italic' textLength="7.53" lengthAdjust="spacingAndGlyphs">l+</text>
<text x="96.59" y="82.8" style='font-size:3.71px;stroke-width:0.04px' textLength="4.98" lengthAdjust="spacingAndGlyphs">⊥</text>
<text x="260.88" y="39.9" style='font-size:7.73px;stroke-width:0.04px' textLength="3.43" lengthAdjust="spacingAndGlyphs">1</text>
<line x1="260.5" y1="41" x2="264.8" y2="41" stroke="#222" stroke-width="0.6" />
<text x="260.54" y="46.8" style='font-size:6.97px;stroke-width:0.04px' textLength="4.5" lengthAdjust="spacingAndGlyphs">2</text>
<text x="269.28" y="45.4" style='font-size:14.91px;stroke-width:0.04px' textLength="7.12" lengthAdjust="spacingAndGlyphs">≤</text>
<text x="287.71" y="39.02" style='font-size:6.1px;stroke-width:0.04px;font-style:italic' textLength="7.11" lengthAdjust="spacingAndGlyphs">Q</text>
<line x1="280" y1="40.9" x2="302" y2="40.9" stroke="#222" stroke-width="0.65" />
<text x="280.92" y="46.8" style='font-size:6.77px;stroke-width:0.04px;font-style:italic' textLength="19.39" lengthAdjust="spacingAndGlyphs">XXX</text>
<text x="305.47" y="45.4" style='font-size:14.91px;stroke-width:0.04px' textLength="7.24" lengthAdjust="spacingAndGlyphs">≤</text>
<text x="315.8" y="43.9" style='font-size:9.39px;stroke-width:0.04px' textLength="6.25" lengthAdjust="spacingAndGlyphs">2</text>
<text x="192.7" y="59.94" style='font-size:10.75px;stroke-width:0.04px;font-style:italic' textLength="5.23" lengthAdjust="spacingAndGlyphs">μ</text>
<text x="199.2" y="61.6" style='font-size:6.77px;stroke-width:0.04px;font-style:italic' textLength="5.8" lengthAdjust="spacingAndGlyphs">R</text>
<text x="207.64" y="61.55" style='font-size:11.2px;stroke-width:0.04px' textLength="8.52" lengthAdjust="spacingAndGlyphs">=</text>
<text x="219" y="59.94" style='font-size:10.75px;stroke-width:0.04px;font-style:italic' textLength="5.23" lengthAdjust="spacingAndGlyphs">μ</text>
<text x="224.6" y="61.6" style='font-size:6.77px;stroke-width:0.04px;font-style:italic' textLength="3.74" lengthAdjust="spacingAndGlyphs">F</text>
<text x="233.34" y="61.55" style='font-size:11.2px;stroke-width:0.04px' textLength="8.52" lengthAdjust="spacingAndGlyphs">=</text>
<text x="244.7" y="59.94" style='font-size:10.75px;stroke-width:0.04px;font-style:italic' textLength="8.61" lengthAdjust="spacingAndGlyphs">μ,</text>
<text x="266.08" y="55.9" style='font-size:7.73px;stroke-width:0.04px' textLength="3.43" lengthAdjust="spacingAndGlyphs">1</text>
<line x1="265.7" y1="57" x2="270" y2="57" stroke="#222" stroke-width="0.6" />
<text x="265.74" y="62.8" style='font-size:6.97px;stroke-width:0.04px' textLength="4.5" lengthAdjust="spacingAndGlyphs">2</text>
<text x="273.84" y="61.2" style='font-size:14.91px;stroke-width:0.04px' textLength="7.71" lengthAdjust="spacingAndGlyphs">≤</text>
<text x="289.6" y="55.44" style='font-size:5.52px;stroke-width:0.05px;font-style:italic' textLength="4.27" lengthAdjust="spacingAndGlyphs">μ</text>
<line x1="285.1" y1="57" x2="298.9" y2="57" stroke="#222" stroke-width="0.65" />
<text x="285.68" y="62.8" style='font-size:6.62px;stroke-width:0.05px;font-style:italic' textLength="6.37" lengthAdjust="spacingAndGlyphs">M</text>
<text x="292.23" y="63.4" style='font-size:4.93px;stroke-width:0.04px;font-style:italic' textLength="4.17" lengthAdjust="spacingAndGlyphs">ll</text>
<text x="302.44" y="61.2" style='font-size:14.91px;stroke-width:0.04px' textLength="7.71" lengthAdjust="spacingAndGlyphs">≤</text>
<text x="312.74" y="59.6" style='font-size:9.7px;stroke-width:0.04px' textLength="5.75" lengthAdjust="spacingAndGlyphs">2</text>
<text x="87.54" y="179" style='font-size:10.77px' textLength="14.88" lengthAdjust="spacingAndGlyphs">R=</text>
<text x="102.37" y="178.91" style='font-size:9.4px;stroke-width:0.08px;font-family:"Liberation Mono",monospace' textLength="69.19" lengthAdjust="spacingAndGlyphs">code/NNLO-QCD</text>
<text x="227.57" y="182.72" style='font-size:8.38px;stroke-width:0.08px;font-family:"Liberation Mono",monospace' textLength="21.78" lengthAdjust="spacingAndGlyphs">NNLO</text>
<line x1="252" y1="180.1" x2="257.7" y2="180.1" stroke="#222" stroke-width="0.75" />
<text x="261.15" y="182.79" style='font-size:8.45px;stroke-width:0.08px;font-family:"Liberation Mono",monospace' textLength="16.2" lengthAdjust="spacingAndGlyphs">QCD</text>
<line x1="283.2" y1="179.6" x2="313.4" y2="179.6" stroke="#8a8a8a" stroke-width="0.9" stroke-dasharray="1.1 0.5"/>
<line x1="283.2" y1="177.4" x2="283.2" y2="181.8" stroke="#777" stroke-width="0.9" />
<line x1="313.4" y1="177.4" x2="313.4" y2="181.8" stroke="#777" stroke-width="0.9" />
<path d="M298.3 178.3l1.2 1.3-1.2 1.3-1.2-1.3z" fill="#888"/>
<text x="235.85" y="193.62" style='font-size:8.38px;stroke-width:0.08px;font-family:"Liberation Mono",monospace' textLength="31.86" lengthAdjust="spacingAndGlyphs">SHERPA</text>
<text x="268.26" y="193.86" style='font-size:10.24px;stroke-width:0.1px;font-style:italic' textLength="8.91" lengthAdjust="spacingAndGlyphs">Q</text>
<line x1="283.2" y1="191" x2="313.4" y2="191" stroke="#2fe82f" stroke-width="1.4" />
<text x="223.16" y="203.72" style='font-size:8.38px;stroke-width:0.08px;font-family:"Liberation Mono",monospace' textLength="31.05" lengthAdjust="spacingAndGlyphs">SHERPA</text>
<text x="255.5" y="204.21" style='font-size:8.51px;stroke-width:0.08px;font-style:italic' textLength="5.13" lengthAdjust="spacingAndGlyphs">μ</text>
<text x="260.9" y="205.91" style='font-size:7.25px;stroke-width:0.05px;font-style:italic' textLength="15.02" lengthAdjust="spacingAndGlyphs">R,F</text>
<line x1="283.2" y1="202.2" x2="313.4" y2="202.2" stroke="#151515" stroke-width="1.4" />
<text x="159.39" y="241.81" style='font-size:12.79px;font-style:italic' textLength="5.75" lengthAdjust="spacingAndGlyphs">p</text>
<text x="164.79" y="236.3" style='font-size:8.12px;stroke-width:0.08px;font-style:italic' textLength="9.64" lengthAdjust="spacingAndGlyphs">l+</text>
<text x="164.44" y="245.3" style='font-size:5.57px;stroke-width:0.08px' textLength="8.34" lengthAdjust="spacingAndGlyphs">⊥</text>
<text x="179.6" y="242.12" style='font-size:13.22px' textLength="31.95" lengthAdjust="spacingAndGlyphs">(GeV)</text>
<text x="6.2" y="107.4" transform="rotate(-90 6.2 107.4)" text-anchor="middle" dominant-baseline="central" style="font-size:12px;font-style:italic">R</text>
<text x="437.48" y="26.19" style='font-size:11.19px' textLength="50.32" lengthAdjust="spacingAndGlyphs">LHC 8 TeV</text>
<text x="437.58" y="53.3" style='font-size:10px' textLength="47.05" lengthAdjust="spacingAndGlyphs">muon bare</text>
<text x="441.93" y="70.93" style='font-size:6.57px;stroke-width:0.06px;font-style:italic' textLength="9.03" lengthAdjust="spacingAndGlyphs">dσ</text>
<line x1="438.4" y1="72.5" x2="455.2" y2="72.5" stroke="#222" stroke-width="0.75" />
<text x="438.23" y="79.85" style='font-size:6.89px;stroke-width:0.06px;font-style:italic' textLength="9.04" lengthAdjust="spacingAndGlyphs">dp</text>
<text x="446.8" y="77" style='font-size:4.93px;stroke-width:0.04px;font-style:italic' textLength="7.53" lengthAdjust="spacingAndGlyphs">l−</text>
<text x="446.89" y="82.8" style='font-size:3.71px;stroke-width:0.04px' textLength="4.98" lengthAdjust="spacingAndGlyphs">⊥</text>
<text x="611.18" y="39.9" style='font-size:7.73px;stroke-width:0.04px' textLength="3.43" lengthAdjust="spacingAndGlyphs">1</text>
<line x1="610.8" y1="41" x2="615.1" y2="41" stroke="#222" stroke-width="0.6" />
<text x="610.84" y="46.8" style='font-size:6.97px;stroke-width:0.04px' textLength="4.5" lengthAdjust="spacingAndGlyphs">2</text>
<text x="619.58" y="45.4" style='font-size:14.91px;stroke-width:0.04px' textLength="7.12" lengthAdjust="spacingAndGlyphs">≤</text>
<text x="638.01" y="39.02" style='font-size:6.1px;stroke-width:0.04px;font-style:italic' textLength="7.11" lengthAdjust="spacingAndGlyphs">Q</text>
<line x1="630.3" y1="40.9" x2="652.3" y2="40.9" stroke="#222" stroke-width="0.65" />
<text x="631.22" y="46.8" style='font-size:6.77px;stroke-width:0.04px;font-style:italic' textLength="19.39" lengthAdjust="spacingAndGlyphs">XXX</text>
<text x="655.77" y="45.4" style='font-size:14.91px;stroke-width:0.04px' textLength="7.24" lengthAdjust="spacingAndGlyphs">≤</text>
<text x="666.1" y="43.9" style='font-size:9.39px;stroke-width:0.04px' textLength="6.25" lengthAdjust="spacingAndGlyphs">2</text>
<text x="543.5" y="59.94" style='font-size:10.75px;stroke-width:0.04px;font-style:italic' textLength="5.23" lengthAdjust="spacingAndGlyphs">μ</text>
<text x="550" y="61.6" style='font-size:6.77px;stroke-width:0.04px;font-style:italic' textLength="5.8" lengthAdjust="spacingAndGlyphs">R</text>
<text x="558.44" y="61.55" style='font-size:11.2px;stroke-width:0.04px' textLength="8.52" lengthAdjust="spacingAndGlyphs">=</text>
<text x="569.8" y="59.94" style='font-size:10.75px;stroke-width:0.04px;font-style:italic' textLength="5.23" lengthAdjust="spacingAndGlyphs">μ</text>
<text x="575.4" y="61.6" style='font-size:6.77px;stroke-width:0.04px;font-style:italic' textLength="3.74" lengthAdjust="spacingAndGlyphs">F</text>
<text x="584.14" y="61.55" style='font-size:11.2px;stroke-width:0.04px' textLength="8.52" lengthAdjust="spacingAndGlyphs">=</text>
<text x="595.5" y="59.94" style='font-size:10.75px;stroke-width:0.04px;font-style:italic' textLength="8.61" lengthAdjust="spacingAndGlyphs">μ,</text>
<text x="616.88" y="55.9" style='font-size:7.73px;stroke-width:0.04px' textLength="3.43" lengthAdjust="spacingAndGlyphs">1</text>
<line x1="616.5" y1="57" x2="620.8" y2="57" stroke="#222" stroke-width="0.6" />
<text x="616.54" y="62.8" style='font-size:6.97px;stroke-width:0.04px' textLength="4.5" lengthAdjust="spacingAndGlyphs">2</text>
<text x="624.64" y="61.2" style='font-size:14.91px;stroke-width:0.04px' textLength="7.71" lengthAdjust="spacingAndGlyphs">≤</text>
<text x="640.4" y="55.44" style='font-size:5.52px;stroke-width:0.05px;font-style:italic' textLength="4.27" lengthAdjust="spacingAndGlyphs">μ</text>
<line x1="635.9" y1="57" x2="649.7" y2="57" stroke="#222" stroke-width="0.65" />
<text x="636.48" y="62.8" style='font-size:6.62px;stroke-width:0.05px;font-style:italic' textLength="6.37" lengthAdjust="spacingAndGlyphs">M</text>
<text x="643.03" y="63.4" style='font-size:4.93px;stroke-width:0.04px;font-style:italic' textLength="4.17" lengthAdjust="spacingAndGlyphs">ll</text>
<text x="653.24" y="61.2" style='font-size:14.91px;stroke-width:0.04px' textLength="7.71" lengthAdjust="spacingAndGlyphs">≤</text>
<text x="663.54" y="59.6" style='font-size:9.7px;stroke-width:0.04px' textLength="5.75" lengthAdjust="spacingAndGlyphs">2</text>
<text x="437.84" y="179" style='font-size:10.77px' textLength="14.88" lengthAdjust="spacingAndGlyphs">R=</text>
<text x="452.67" y="178.91" style='font-size:9.4px;stroke-width:0.08px;font-family:"Liberation Mono",monospace' textLength="69.19" lengthAdjust="spacingAndGlyphs">code/NNLO-QCD</text>
<text x="577.87" y="182.72" style='font-size:8.38px;stroke-width:0.08px;font-family:"Liberation Mono",monospace' textLength="21.78" lengthAdjust="spacingAndGlyphs">NNLO</text>
<line x1="602.3" y1="180.1" x2="608" y2="180.1" stroke="#222" stroke-width="0.75" />
<text x="611.45" y="182.79" style='font-size:8.45px;stroke-width:0.08px;font-family:"Liberation Mono",monospace' textLength="16.2" lengthAdjust="spacingAndGlyphs">QCD</text>
<line x1="633.5" y1="179.6" x2="663.7" y2="179.6" stroke="#8a8a8a" stroke-width="0.9" stroke-dasharray="1.1 0.5"/>
<line x1="633.5" y1="177.4" x2="633.5" y2="181.8" stroke="#777" stroke-width="0.9" />
<line x1="663.7" y1="177.4" x2="663.7" y2="181.8" stroke="#777" stroke-width="0.9" />
<path d="M648.6 178.3l1.2 1.3-1.2 1.3-1.2-1.3z" fill="#888"/>
<text x="586.15" y="193.62" style='font-size:8.38px;stroke-width:0.08px;font-family:"Liberation Mono",monospace' textLength="31.86" lengthAdjust="spacingAndGlyphs">SHERPA</text>
<text x="618.56" y="193.86" style='font-size:10.24px;stroke-width:0.1px;font-style:italic' textLength="8.91" lengthAdjust="spacingAndGlyphs">Q</text>
<line x1="633.5" y1="191" x2="663.7" y2="191" stroke="#2fe82f" stroke-width="1.4" />
<text x="573.46" y="203.72" style='font-size:8.38px;stroke-width:0.08px;font-family:"Liberation Mono",monospace' textLength="31.05" lengthAdjust="spacingAndGlyphs">SHERPA</text>
<text x="605.8" y="204.21" style='font-size:8.51px;stroke-width:0.08px;font-style:italic' textLength="5.13" lengthAdjust="spacingAndGlyphs">μ</text>
<text x="611.2" y="205.91" style='font-size:7.25px;stroke-width:0.05px;font-style:italic' textLength="15.02" lengthAdjust="spacingAndGlyphs">R,F</text>
<line x1="633.5" y1="202.2" x2="663.7" y2="202.2" stroke="#151515" stroke-width="1.4" />
<text x="509.69" y="241.81" style='font-size:12.79px;font-style:italic' textLength="5.75" lengthAdjust="spacingAndGlyphs">p</text>
<text x="515.09" y="236.3" style='font-size:8.12px;stroke-width:0.08px;font-style:italic' textLength="9.64" lengthAdjust="spacingAndGlyphs">l−</text>
<text x="514.74" y="245.3" style='font-size:5.57px;stroke-width:0.08px' textLength="8.34" lengthAdjust="spacingAndGlyphs">⊥</text>
<text x="529.9" y="242.12" style='font-size:13.22px' textLength="31.95" lengthAdjust="spacingAndGlyphs">(GeV)</text>
<text x="355.3" y="107.4" transform="rotate(-90 355.3 107.4)" text-anchor="middle" dominant-baseline="central" style="font-size:12px;font-style:italic">R</text>
<text x="101.38" y="315.59" style='font-size:11.19px' textLength="50.32" lengthAdjust="spacingAndGlyphs">LHC 8 TeV</text>
<text x="101.48" y="335.9" style='font-size:10px' textLength="47.05" lengthAdjust="spacingAndGlyphs">muon bare</text>
<text x="106.64" y="351.63" style='font-size:6.86px;stroke-width:0.06px;font-style:italic' textLength="8.63" lengthAdjust="spacingAndGlyphs">dσ</text>
<line x1="102.6" y1="353.4" x2="119.8" y2="353.4" stroke="#222" stroke-width="0.8" />
<text x="102.66" y="359.73" style='font-size:7px;stroke-width:0.06px;font-style:italic' textLength="10.86" lengthAdjust="spacingAndGlyphs">dM</text>
<text x="114.81" y="360.4" style='font-size:4.29px;stroke-width:0.04px' textLength="4.73" lengthAdjust="spacingAndGlyphs">⊥</text>
<text x="258.98" y="265" style='font-size:7.73px;stroke-width:0.04px' textLength="3.43" lengthAdjust="spacingAndGlyphs">1</text>
<line x1="258.6" y1="266.1" x2="262.9" y2="266.1" stroke="#222" stroke-width="0.6" />
<text x="258.64" y="271.9" style='font-size:6.97px;stroke-width:0.04px' textLength="4.5" lengthAdjust="spacingAndGlyphs">2</text>
<text x="267.38" y="270.5" style='font-size:14.91px;stroke-width:0.04px' textLength="7.12" lengthAdjust="spacingAndGlyphs">≤</text>
<text x="285.81" y="264.12" style='font-size:6.1px;stroke-width:0.04px;font-style:italic' textLength="7.11" lengthAdjust="spacingAndGlyphs">Q</text>
<line x1="278.1" y1="266" x2="300.1" y2="266" stroke="#222" stroke-width="0.65" />
<text x="279.02" y="271.9" style='font-size:6.77px;stroke-width:0.04px;font-style:italic' textLength="19.39" lengthAdjust="spacingAndGlyphs">XXX</text>
<text x="303.57" y="270.5" style='font-size:14.91px;stroke-width:0.04px' textLength="7.24" lengthAdjust="spacingAndGlyphs">≤</text>
<text x="313.9" y="269" style='font-size:9.39px;stroke-width:0.04px' textLength="6.25" lengthAdjust="spacingAndGlyphs">2</text>
<text x="185.3" y="287.84" style='font-size:10.75px;stroke-width:0.04px;font-style:italic' textLength="5.23" lengthAdjust="spacingAndGlyphs">μ</text>
<text x="191.8" y="289.5" style='font-size:6.77px;stroke-width:0.04px;font-style:italic' textLength="5.8" lengthAdjust="spacingAndGlyphs">R</text>
<text x="200.24" y="289.45" style='font-size:11.2px;stroke-width:0.04px' textLength="8.52" lengthAdjust="spacingAndGlyphs">=</text>
<text x="211.6" y="287.84" style='font-size:10.75px;stroke-width:0.04px;font-style:italic' textLength="5.23" lengthAdjust="spacingAndGlyphs">μ</text>
<text x="217.2" y="289.5" style='font-size:6.77px;stroke-width:0.04px;font-style:italic' textLength="3.74" lengthAdjust="spacingAndGlyphs">F</text>
<text x="225.94" y="289.45" style='font-size:11.2px;stroke-width:0.04px' textLength="8.52" lengthAdjust="spacingAndGlyphs">=</text>
<text x="237.3" y="287.84" style='font-size:10.75px;stroke-width:0.04px;font-style:italic' textLength="8.61" lengthAdjust="spacingAndGlyphs">μ,</text>
<text x="258.68" y="283.8" style='font-size:7.73px;stroke-width:0.04px' textLength="3.43" lengthAdjust="spacingAndGlyphs">1</text>
<line x1="258.3" y1="284.9" x2="262.6" y2="284.9" stroke="#222" stroke-width="0.6" />
<text x="258.34" y="290.7" style='font-size:6.97px;stroke-width:0.04px' textLength="4.5" lengthAdjust="spacingAndGlyphs">2</text>
<text x="266.44" y="289.1" style='font-size:14.91px;stroke-width:0.04px' textLength="7.71" lengthAdjust="spacingAndGlyphs">≤</text>
<text x="282.2" y="283.34" style='font-size:5.52px;stroke-width:0.05px;font-style:italic' textLength="4.27" lengthAdjust="spacingAndGlyphs">μ</text>
<line x1="277.7" y1="284.9" x2="291.5" y2="284.9" stroke="#222" stroke-width="0.65" />
<text x="278.28" y="290.7" style='font-size:6.62px;stroke-width:0.05px;font-style:italic' textLength="6.37" lengthAdjust="spacingAndGlyphs">M</text>
<text x="284.83" y="291.3" style='font-size:4.93px;stroke-width:0.04px;font-style:italic' textLength="4.17" lengthAdjust="spacingAndGlyphs">ll</text>
<text x="295.04" y="289.1" style='font-size:14.91px;stroke-width:0.04px' textLength="7.71" lengthAdjust="spacingAndGlyphs">≤</text>
<text x="305.34" y="287.5" style='font-size:9.7px;stroke-width:0.04px' textLength="5.75" lengthAdjust="spacingAndGlyphs">2</text>
<text x="101.64" y="444.7" style='font-size:10.77px' textLength="14.88" lengthAdjust="spacingAndGlyphs">R=</text>
<text x="116.47" y="444.61" style='font-size:9.4px;stroke-width:0.08px;font-family:"Liberation Mono",monospace' textLength="69.19" lengthAdjust="spacingAndGlyphs">code/NNLO-QCD</text>
<text x="226.07" y="426.92" style='font-size:8.38px;stroke-width:0.08px;font-family:"Liberation Mono",monospace' textLength="21.78" lengthAdjust="spacingAndGlyphs">NNLO</text>
<line x1="250.5" y1="424.3" x2="256.2" y2="424.3" stroke="#222" stroke-width="0.75" />
<text x="259.65" y="426.99" style='font-size:8.45px;stroke-width:0.08px;font-family:"Liberation Mono",monospace' textLength="16.2" lengthAdjust="spacingAndGlyphs">QCD</text>
<line x1="281.7" y1="423.8" x2="311.9" y2="423.8" stroke="#8a8a8a" stroke-width="0.9" stroke-dasharray="1.1 0.5"/>
<line x1="281.7" y1="421.6" x2="281.7" y2="426" stroke="#777" stroke-width="0.9" />
<line x1="311.9" y1="421.6" x2="311.9" y2="426" stroke="#777" stroke-width="0.9" />
<path d="M296.8 422.5l1.2 1.3-1.2 1.3-1.2-1.3z" fill="#888"/>
<text x="234.35" y="437.82" style='font-size:8.38px;stroke-width:0.08px;font-family:"Liberation Mono",monospace' textLength="31.86" lengthAdjust="spacingAndGlyphs">SHERPA</text>
<text x="266.76" y="438.06" style='font-size:10.24px;stroke-width:0.1px;font-style:italic' textLength="8.91" lengthAdjust="spacingAndGlyphs">Q</text>
<line x1="281.7" y1="435.2" x2="311.9" y2="435.2" stroke="#2fe82f" stroke-width="1.4" />
<text x="221.66" y="447.92" style='font-size:8.38px;stroke-width:0.08px;font-family:"Liberation Mono",monospace' textLength="31.05" lengthAdjust="spacingAndGlyphs">SHERPA</text>
<text x="254" y="448.41" style='font-size:8.51px;stroke-width:0.08px;font-style:italic' textLength="5.13" lengthAdjust="spacingAndGlyphs">μ</text>
<text x="259.4" y="450.11" style='font-size:7.25px;stroke-width:0.05px;font-style:italic' textLength="15.02" lengthAdjust="spacingAndGlyphs">R,F</text>
<line x1="281.7" y1="446.4" x2="311.9" y2="446.4" stroke="#151515" stroke-width="1.4" />
<text x="160.54" y="484.4" style='font-size:10.46px;stroke-width:0.02px;font-style:italic' textLength="11.61" lengthAdjust="spacingAndGlyphs">M</text>
<text x="170.07" y="487.2" style='font-size:7.43px;stroke-width:0.08px' textLength="8.96" lengthAdjust="spacingAndGlyphs">⊥</text>
<text x="183.29" y="485.12" style='font-size:13.22px' textLength="32.47" lengthAdjust="spacingAndGlyphs">(GeV)</text>
<text x="6" y="352.4" transform="rotate(-90 6 352.4)" text-anchor="middle" dominant-baseline="central" style="font-size:12px;font-style:italic">R</text>
<text x="451.68" y="315.59" style='font-size:11.19px' textLength="50.32" lengthAdjust="spacingAndGlyphs">LHC 8 TeV</text>
<text x="451.78" y="335.9" style='font-size:10px' textLength="47.05" lengthAdjust="spacingAndGlyphs">muon bare</text>
<text x="456.94" y="351.63" style='font-size:6.86px;stroke-width:0.06px;font-style:italic' textLength="8.63" lengthAdjust="spacingAndGlyphs">dσ</text>
<line x1="452.9" y1="353.4" x2="470.1" y2="353.4" stroke="#222" stroke-width="0.8" />
<text x="452.96" y="359.73" style='font-size:7px;stroke-width:0.06px;font-style:italic' textLength="10.86" lengthAdjust="spacingAndGlyphs">dM</text>
<text x="465.11" y="360.4" style='font-size:4.29px;stroke-width:0.04px' textLength="4.73" lengthAdjust="spacingAndGlyphs">⊥</text>
<text x="609.28" y="265" style='font-size:7.73px;stroke-width:0.04px' textLength="3.43" lengthAdjust="spacingAndGlyphs">1</text>
<line x1="608.9" y1="266.1" x2="613.2" y2="266.1" stroke="#222" stroke-width="0.6" />
<text x="608.94" y="271.9" style='font-size:6.97px;stroke-width:0.04px' textLength="4.5" lengthAdjust="spacingAndGlyphs">2</text>
<text x="617.68" y="270.5" style='font-size:14.91px;stroke-width:0.04px' textLength="7.12" lengthAdjust="spacingAndGlyphs">≤</text>
<text x="636.11" y="264.12" style='font-size:6.1px;stroke-width:0.04px;font-style:italic' textLength="7.11" lengthAdjust="spacingAndGlyphs">Q</text>
<line x1="628.4" y1="266" x2="650.4" y2="266" stroke="#222" stroke-width="0.65" />
<text x="629.32" y="271.9" style='font-size:6.77px;stroke-width:0.04px;font-style:italic' textLength="19.39" lengthAdjust="spacingAndGlyphs">XXX</text>
<text x="653.87" y="270.5" style='font-size:14.91px;stroke-width:0.04px' textLength="7.24" lengthAdjust="spacingAndGlyphs">≤</text>
<text x="664.2" y="269" style='font-size:9.39px;stroke-width:0.04px' textLength="6.25" lengthAdjust="spacingAndGlyphs">2</text>
<text x="535.6" y="287.84" style='font-size:10.75px;stroke-width:0.04px;font-style:italic' textLength="5.23" lengthAdjust="spacingAndGlyphs">μ</text>
<text x="542.1" y="289.5" style='font-size:6.77px;stroke-width:0.04px;font-style:italic' textLength="5.8" lengthAdjust="spacingAndGlyphs">R</text>
<text x="550.54" y="289.45" style='font-size:11.2px;stroke-width:0.04px' textLength="8.52" lengthAdjust="spacingAndGlyphs">=</text>
<text x="561.9" y="287.84" style='font-size:10.75px;stroke-width:0.04px;font-style:italic' textLength="5.23" lengthAdjust="spacingAndGlyphs">μ</text>
<text x="567.5" y="289.5" style='font-size:6.77px;stroke-width:0.04px;font-style:italic' textLength="3.74" lengthAdjust="spacingAndGlyphs">F</text>
<text x="576.24" y="289.45" style='font-size:11.2px;stroke-width:0.04px' textLength="8.52" lengthAdjust="spacingAndGlyphs">=</text>
<text x="587.6" y="287.84" style='font-size:10.75px;stroke-width:0.04px;font-style:italic' textLength="8.61" lengthAdjust="spacingAndGlyphs">μ,</text>
<text x="608.98" y="283.8" style='font-size:7.73px;stroke-width:0.04px' textLength="3.43" lengthAdjust="spacingAndGlyphs">1</text>
<line x1="608.6" y1="284.9" x2="612.9" y2="284.9" stroke="#222" stroke-width="0.6" />
<text x="608.64" y="290.7" style='font-size:6.97px;stroke-width:0.04px' textLength="4.5" lengthAdjust="spacingAndGlyphs">2</text>
<text x="616.74" y="289.1" style='font-size:14.91px;stroke-width:0.04px' textLength="7.71" lengthAdjust="spacingAndGlyphs">≤</text>
<text x="632.5" y="283.34" style='font-size:5.52px;stroke-width:0.05px;font-style:italic' textLength="4.27" lengthAdjust="spacingAndGlyphs">μ</text>
<line x1="628" y1="284.9" x2="641.8" y2="284.9" stroke="#222" stroke-width="0.65" />
<text x="628.58" y="290.7" style='font-size:6.62px;stroke-width:0.05px;font-style:italic' textLength="6.37" lengthAdjust="spacingAndGlyphs">M</text>
<text x="635.12" y="291.3" style='font-size:4.93px;stroke-width:0.04px;font-style:italic' textLength="4.17" lengthAdjust="spacingAndGlyphs">ll</text>
<text x="645.34" y="289.1" style='font-size:14.91px;stroke-width:0.04px' textLength="7.71" lengthAdjust="spacingAndGlyphs">≤</text>
<text x="655.64" y="287.5" style='font-size:9.7px;stroke-width:0.04px' textLength="5.75" lengthAdjust="spacingAndGlyphs">2</text>
<text x="451.94" y="444.7" style='font-size:10.77px' textLength="14.88" lengthAdjust="spacingAndGlyphs">R=</text>
<text x="466.77" y="444.61" style='font-size:9.4px;stroke-width:0.08px;font-family:"Liberation Mono",monospace' textLength="69.19" lengthAdjust="spacingAndGlyphs">code/NNLO-QCD</text>
<text x="576.37" y="426.92" style='font-size:8.38px;stroke-width:0.08px;font-family:"Liberation Mono",monospace' textLength="21.78" lengthAdjust="spacingAndGlyphs">NNLO</text>
<line x1="600.8" y1="424.3" x2="606.5" y2="424.3" stroke="#222" stroke-width="0.75" />
<text x="609.95" y="426.99" style='font-size:8.45px;stroke-width:0.08px;font-family:"Liberation Mono",monospace' textLength="16.2" lengthAdjust="spacingAndGlyphs">QCD</text>
<line x1="632" y1="423.8" x2="662.2" y2="423.8" stroke="#8a8a8a" stroke-width="0.9" stroke-dasharray="1.1 0.5"/>
<line x1="632" y1="421.6" x2="632" y2="426" stroke="#777" stroke-width="0.9" />
<line x1="662.2" y1="421.6" x2="662.2" y2="426" stroke="#777" stroke-width="0.9" />
<path d="M647.1 422.5l1.2 1.3-1.2 1.3-1.2-1.3z" fill="#888"/>
<text x="584.65" y="437.82" style='font-size:8.38px;stroke-width:0.08px;font-family:"Liberation Mono",monospace' textLength="31.86" lengthAdjust="spacingAndGlyphs">SHERPA</text>
<text x="617.06" y="438.06" style='font-size:10.24px;stroke-width:0.1px;font-style:italic' textLength="8.91" lengthAdjust="spacingAndGlyphs">Q</text>
<line x1="632" y1="435.2" x2="662.2" y2="435.2" stroke="#2fe82f" stroke-width="1.4" />
<text x="571.96" y="447.92" style='font-size:8.38px;stroke-width:0.08px;font-family:"Liberation Mono",monospace' textLength="31.05" lengthAdjust="spacingAndGlyphs">SHERPA</text>
<text x="604.3" y="448.41" style='font-size:8.51px;stroke-width:0.08px;font-style:italic' textLength="5.13" lengthAdjust="spacingAndGlyphs">μ</text>
<text x="609.7" y="450.11" style='font-size:7.25px;stroke-width:0.05px;font-style:italic' textLength="15.02" lengthAdjust="spacingAndGlyphs">R,F</text>
<line x1="632" y1="446.4" x2="662.2" y2="446.4" stroke="#151515" stroke-width="1.4" />
<text x="510.84" y="484.4" style='font-size:10.46px;stroke-width:0.02px;font-style:italic' textLength="11.61" lengthAdjust="spacingAndGlyphs">M</text>
<text x="520.37" y="487.2" style='font-size:7.43px;stroke-width:0.08px' textLength="8.96" lengthAdjust="spacingAndGlyphs">⊥</text>
<text x="533.59" y="485.12" style='font-size:13.22px' textLength="32.47" lengthAdjust="spacingAndGlyphs">(GeV)</text>
<text x="355.3" y="352.4" transform="rotate(-90 355.3 352.4)" text-anchor="middle" dominant-baseline="central" style="font-size:12px;font-style:italic">R</text>
<text x="62.58" y="648.39" style='font-size:11.19px' textLength="50.32" lengthAdjust="spacingAndGlyphs">LHC 8 TeV</text>
<text x="62.68" y="668.5" style='font-size:10px' textLength="47.05" lengthAdjust="spacingAndGlyphs">muon bare</text>
<text x="70.25" y="678.44" style='font-size:6.14px;stroke-width:0.06px;font-style:italic' textLength="8.33" lengthAdjust="spacingAndGlyphs">dσ</text>
<line x1="63.7" y1="680.5" x2="85.8" y2="680.5" stroke="#222" stroke-width="0.8" />
<text x="63.64" y="688.01" style='font-size:7.11px;stroke-width:0.06px;font-style:italic' textLength="8.62" lengthAdjust="spacingAndGlyphs">dp</text>
<text x="72.36" y="685.25" style='font-size:5.3px;stroke-width:0.04px;font-style:italic' textLength="11.59" lengthAdjust="spacingAndGlyphs">W+</text>
<text x="72.16" y="690.6" style='font-size:4.29px;stroke-width:0.04px' textLength="5.23" lengthAdjust="spacingAndGlyphs">⊥</text>
<text x="135.68" y="535" style='font-size:7.73px;stroke-width:0.04px' textLength="3.43" lengthAdjust="spacingAndGlyphs">1</text>
<line x1="135.3" y1="536.1" x2="139.6" y2="536.1" stroke="#222" stroke-width="0.6" />
<text x="135.34" y="541.9" style='font-size:6.97px;stroke-width:0.04px' textLength="4.5" lengthAdjust="spacingAndGlyphs">2</text>
<text x="144.08" y="540.5" style='font-size:14.91px;stroke-width:0.04px' textLength="7.12" lengthAdjust="spacingAndGlyphs">≤</text>
<text x="162.51" y="534.12" style='font-size:6.1px;stroke-width:0.04px;font-style:italic' textLength="7.11" lengthAdjust="spacingAndGlyphs">Q</text>
<line x1="154.8" y1="536" x2="176.8" y2="536" stroke="#222" stroke-width="0.65" />
<text x="155.72" y="541.9" style='font-size:6.77px;stroke-width:0.04px;font-style:italic' textLength="19.39" lengthAdjust="spacingAndGlyphs">XXX</text>
<text x="180.27" y="540.5" style='font-size:14.91px;stroke-width:0.04px' textLength="7.24" lengthAdjust="spacingAndGlyphs">≤</text>
<text x="190.6" y="539" style='font-size:9.39px;stroke-width:0.04px' textLength="6.25" lengthAdjust="spacingAndGlyphs">2</text>
<text x="62.6" y="558.14" style='font-size:10.75px;stroke-width:0.04px;font-style:italic' textLength="5.23" lengthAdjust="spacingAndGlyphs">μ</text>
<text x="69.1" y="559.8" style='font-size:6.77px;stroke-width:0.04px;font-style:italic' textLength="5.8" lengthAdjust="spacingAndGlyphs">R</text>
<text x="77.54" y="559.75" style='font-size:11.2px;stroke-width:0.04px' textLength="8.52" lengthAdjust="spacingAndGlyphs">=</text>
<text x="88.9" y="558.14" style='font-size:10.75px;stroke-width:0.04px;font-style:italic' textLength="5.23" lengthAdjust="spacingAndGlyphs">μ</text>
<text x="94.5" y="559.8" style='font-size:6.77px;stroke-width:0.04px;font-style:italic' textLength="3.74" lengthAdjust="spacingAndGlyphs">F</text>
<text x="103.24" y="559.75" style='font-size:11.2px;stroke-width:0.04px' textLength="8.52" lengthAdjust="spacingAndGlyphs">=</text>
<text x="114.6" y="558.14" style='font-size:10.75px;stroke-width:0.04px;font-style:italic' textLength="8.61" lengthAdjust="spacingAndGlyphs">μ,</text>
<text x="135.98" y="554.1" style='font-size:7.73px;stroke-width:0.04px' textLength="3.43" lengthAdjust="spacingAndGlyphs">1</text>
<line x1="135.6" y1="555.2" x2="139.9" y2="555.2" stroke="#222" stroke-width="0.6" />
<text x="135.64" y="561" style='font-size:6.97px;stroke-width:0.04px' textLength="4.5" lengthAdjust="spacingAndGlyphs">2</text>
<text x="143.74" y="559.4" style='font-size:14.91px;stroke-width:0.04px' textLength="7.71" lengthAdjust="spacingAndGlyphs">≤</text>
<text x="159.5" y="553.64" style='font-size:5.52px;stroke-width:0.05px;font-style:italic' textLength="4.27" lengthAdjust="spacingAndGlyphs">μ</text>
<line x1="155" y1="555.2" x2="168.8" y2="555.2" stroke="#222" stroke-width="0.65" />
<text x="155.58" y="561" style='font-size:6.62px;stroke-width:0.05px;font-style:italic' textLength="6.37" lengthAdjust="spacingAndGlyphs">M</text>
<text x="162.13" y="561.6" style='font-size:4.93px;stroke-width:0.04px;font-style:italic' textLength="4.17" lengthAdjust="spacingAndGlyphs">ll</text>
<text x="172.34" y="559.4" style='font-size:14.91px;stroke-width:0.04px' textLength="7.71" lengthAdjust="spacingAndGlyphs">≤</text>
<text x="182.64" y="557.8" style='font-size:9.7px;stroke-width:0.04px' textLength="5.75" lengthAdjust="spacingAndGlyphs">2</text>
<text x="181.94" y="685" style='font-size:10.77px' textLength="14.88" lengthAdjust="spacingAndGlyphs">R=</text>
<text x="196.77" y="684.91" style='font-size:9.4px;stroke-width:0.08px;font-family:"Liberation Mono",monospace' textLength="69.19" lengthAdjust="spacingAndGlyphs">code/NNLO-QCD</text>
<text x="226.17" y="506.72" style='font-size:8.38px;stroke-width:0.08px;font-family:"Liberation Mono",monospace' textLength="21.78" lengthAdjust="spacingAndGlyphs">NNLO</text>
<line x1="250.6" y1="504.1" x2="256.3" y2="504.1" stroke="#222" stroke-width="0.75" />
<text x="259.75" y="506.79" style='font-size:8.45px;stroke-width:0.08px;font-family:"Liberation Mono",monospace' textLength="16.2" lengthAdjust="spacingAndGlyphs">QCD</text>
<line x1="281.8" y1="503.6" x2="312" y2="503.6" stroke="#8a8a8a" stroke-width="0.9" stroke-dasharray="1.1 0.5"/>
<line x1="281.8" y1="501.4" x2="281.8" y2="505.8" stroke="#777" stroke-width="0.9" />
<line x1="312" y1="501.4" x2="312" y2="505.8" stroke="#777" stroke-width="0.9" />
<path d="M296.9 502.3l1.2 1.3-1.2 1.3-1.2-1.3z" fill="#888"/>
<text x="234.45" y="517.62" style='font-size:8.38px;stroke-width:0.08px;font-family:"Liberation Mono",monospace' textLength="31.86" lengthAdjust="spacingAndGlyphs">SHERPA</text>
<text x="266.86" y="517.86" style='font-size:10.24px;stroke-width:0.1px;font-style:italic' textLength="8.91" lengthAdjust="spacingAndGlyphs">Q</text>
<line x1="281.8" y1="515" x2="312" y2="515" stroke="#2fe82f" stroke-width="1.4" />
<text x="221.76" y="527.72" style='font-size:8.38px;stroke-width:0.08px;font-family:"Liberation Mono",monospace' textLength="31.05" lengthAdjust="spacingAndGlyphs">SHERPA</text>
<text x="254.1" y="528.21" style='font-size:8.51px;stroke-width:0.08px;font-style:italic' textLength="5.13" lengthAdjust="spacingAndGlyphs">μ</text>
<text x="259.5" y="529.91" style='font-size:7.25px;stroke-width:0.05px;font-style:italic' textLength="15.02" lengthAdjust="spacingAndGlyphs">R,F</text>
<line x1="281.8" y1="526.2" x2="312" y2="526.2" stroke="#151515" stroke-width="1.4" />
<text x="154.79" y="730.21" style='font-size:12.79px;font-style:italic' textLength="5.75" lengthAdjust="spacingAndGlyphs">p</text>
<text x="162.07" y="725.4" style='font-size:9.85px;stroke-width:0.08px;font-style:italic' textLength="15.64" lengthAdjust="spacingAndGlyphs">W+</text>
<text x="159.84" y="733.7" style='font-size:5.57px;stroke-width:0.08px' textLength="8.34" lengthAdjust="spacingAndGlyphs">⊥</text>
<text x="182.1" y="730.52" style='font-size:13.22px' textLength="31.95" lengthAdjust="spacingAndGlyphs">(GeV)</text>
<text x="6" y="596.3" transform="rotate(-90 6 596.3)" text-anchor="middle" dominant-baseline="central" style="font-size:12px;font-style:italic">R</text>
<text x="412.88" y="648.39" style='font-size:11.19px' textLength="50.32" lengthAdjust="spacingAndGlyphs">LHC 8 TeV</text>
<text x="412.98" y="668.5" style='font-size:10px' textLength="47.05" lengthAdjust="spacingAndGlyphs">muon bare</text>
<text x="420.55" y="678.44" style='font-size:6.14px;stroke-width:0.06px;font-style:italic' textLength="8.33" lengthAdjust="spacingAndGlyphs">dσ</text>
<line x1="414" y1="680.5" x2="436.1" y2="680.5" stroke="#222" stroke-width="0.8" />
<text x="413.94" y="688.01" style='font-size:7.11px;stroke-width:0.06px;font-style:italic' textLength="8.62" lengthAdjust="spacingAndGlyphs">dp</text>
<text x="422.66" y="685.25" style='font-size:5.3px;stroke-width:0.04px;font-style:italic' textLength="11.59" lengthAdjust="spacingAndGlyphs">W−</text>
<text x="422.46" y="690.6" style='font-size:4.29px;stroke-width:0.04px' textLength="5.23" lengthAdjust="spacingAndGlyphs">⊥</text>
<text x="485.98" y="535" style='font-size:7.73px;stroke-width:0.04px' textLength="3.43" lengthAdjust="spacingAndGlyphs">1</text>
<line x1="485.6" y1="536.1" x2="489.9" y2="536.1" stroke="#222" stroke-width="0.6" />
<text x="485.64" y="541.9" style='font-size:6.97px;stroke-width:0.04px' textLength="4.5" lengthAdjust="spacingAndGlyphs">2</text>
<text x="494.38" y="540.5" style='font-size:14.91px;stroke-width:0.04px' textLength="7.12" lengthAdjust="spacingAndGlyphs">≤</text>
<text x="512.81" y="534.12" style='font-size:6.1px;stroke-width:0.04px;font-style:italic' textLength="7.11" lengthAdjust="spacingAndGlyphs">Q</text>
<line x1="505.1" y1="536" x2="527.1" y2="536" stroke="#222" stroke-width="0.65" />
<text x="506.02" y="541.9" style='font-size:6.77px;stroke-width:0.04px;font-style:italic' textLength="19.39" lengthAdjust="spacingAndGlyphs">XXX</text>
<text x="530.57" y="540.5" style='font-size:14.91px;stroke-width:0.04px' textLength="7.24" lengthAdjust="spacingAndGlyphs">≤</text>
<text x="540.9" y="539" style='font-size:9.39px;stroke-width:0.04px' textLength="6.25" lengthAdjust="spacingAndGlyphs">2</text>
<text x="412.9" y="558.14" style='font-size:10.75px;stroke-width:0.04px;font-style:italic' textLength="5.23" lengthAdjust="spacingAndGlyphs">μ</text>
<text x="419.4" y="559.8" style='font-size:6.77px;stroke-width:0.04px;font-style:italic' textLength="5.8" lengthAdjust="spacingAndGlyphs">R</text>
<text x="427.84" y="559.75" style='font-size:11.2px;stroke-width:0.04px' textLength="8.52" lengthAdjust="spacingAndGlyphs">=</text>
<text x="439.2" y="558.14" style='font-size:10.75px;stroke-width:0.04px;font-style:italic' textLength="5.23" lengthAdjust="spacingAndGlyphs">μ</text>
<text x="444.8" y="559.8" style='font-size:6.77px;stroke-width:0.04px;font-style:italic' textLength="3.74" lengthAdjust="spacingAndGlyphs">F</text>
<text x="453.54" y="559.75" style='font-size:11.2px;stroke-width:0.04px' textLength="8.52" lengthAdjust="spacingAndGlyphs">=</text>
<text x="464.9" y="558.14" style='font-size:10.75px;stroke-width:0.04px;font-style:italic' textLength="8.61" lengthAdjust="spacingAndGlyphs">μ,</text>
<text x="486.28" y="554.1" style='font-size:7.73px;stroke-width:0.04px' textLength="3.43" lengthAdjust="spacingAndGlyphs">1</text>
<line x1="485.9" y1="555.2" x2="490.2" y2="555.2" stroke="#222" stroke-width="0.6" />
<text x="485.94" y="561" style='font-size:6.97px;stroke-width:0.04px' textLength="4.5" lengthAdjust="spacingAndGlyphs">2</text>
<text x="494.04" y="559.4" style='font-size:14.91px;stroke-width:0.04px' textLength="7.71" lengthAdjust="spacingAndGlyphs">≤</text>
<text x="509.8" y="553.64" style='font-size:5.52px;stroke-width:0.05px;font-style:italic' textLength="4.27" lengthAdjust="spacingAndGlyphs">μ</text>
<line x1="505.3" y1="555.2" x2="519.1" y2="555.2" stroke="#222" stroke-width="0.65" />
<text x="505.88" y="561" style='font-size:6.62px;stroke-width:0.05px;font-style:italic' textLength="6.37" lengthAdjust="spacingAndGlyphs">M</text>
<text x="512.43" y="561.6" style='font-size:4.93px;stroke-width:0.04px;font-style:italic' textLength="4.17" lengthAdjust="spacingAndGlyphs">ll</text>
<text x="522.64" y="559.4" style='font-size:14.91px;stroke-width:0.04px' textLength="7.71" lengthAdjust="spacingAndGlyphs">≤</text>
<text x="532.94" y="557.8" style='font-size:9.7px;stroke-width:0.04px' textLength="5.75" lengthAdjust="spacingAndGlyphs">2</text>
<text x="532.24" y="685" style='font-size:10.77px' textLength="14.88" lengthAdjust="spacingAndGlyphs">R=</text>
<text x="547.07" y="684.91" style='font-size:9.4px;stroke-width:0.08px;font-family:"Liberation Mono",monospace' textLength="69.19" lengthAdjust="spacingAndGlyphs">code/NNLO-QCD</text>
<text x="576.47" y="506.72" style='font-size:8.38px;stroke-width:0.08px;font-family:"Liberation Mono",monospace' textLength="21.78" lengthAdjust="spacingAndGlyphs">NNLO</text>
<line x1="600.9" y1="504.1" x2="606.6" y2="504.1" stroke="#222" stroke-width="0.75" />
<text x="610.05" y="506.79" style='font-size:8.45px;stroke-width:0.08px;font-family:"Liberation Mono",monospace' textLength="16.2" lengthAdjust="spacingAndGlyphs">QCD</text>
<line x1="632.1" y1="503.6" x2="662.3" y2="503.6" stroke="#8a8a8a" stroke-width="0.9" stroke-dasharray="1.1 0.5"/>
<line x1="632.1" y1="501.4" x2="632.1" y2="505.8" stroke="#777" stroke-width="0.9" />
<line x1="662.3" y1="501.4" x2="662.3" y2="505.8" stroke="#777" stroke-width="0.9" />
<path d="M647.2 502.3l1.2 1.3-1.2 1.3-1.2-1.3z" fill="#888"/>
<text x="584.75" y="517.62" style='font-size:8.38px;stroke-width:0.08px;font-family:"Liberation Mono",monospace' textLength="31.86" lengthAdjust="spacingAndGlyphs">SHERPA</text>
<text x="617.16" y="517.86" style='font-size:10.24px;stroke-width:0.1px;font-style:italic' textLength="8.91" lengthAdjust="spacingAndGlyphs">Q</text>
<line x1="632.1" y1="515" x2="662.3" y2="515" stroke="#2fe82f" stroke-width="1.4" />
<text x="572.06" y="527.72" style='font-size:8.38px;stroke-width:0.08px;font-family:"Liberation Mono",monospace' textLength="31.05" lengthAdjust="spacingAndGlyphs">SHERPA</text>
<text x="604.4" y="528.21" style='font-size:8.51px;stroke-width:0.08px;font-style:italic' textLength="5.13" lengthAdjust="spacingAndGlyphs">μ</text>
<text x="609.8" y="529.91" style='font-size:7.25px;stroke-width:0.05px;font-style:italic' textLength="15.02" lengthAdjust="spacingAndGlyphs">R,F</text>
<line x1="632.1" y1="526.2" x2="662.3" y2="526.2" stroke="#151515" stroke-width="1.4" />
<text x="505.09" y="730.21" style='font-size:12.79px;font-style:italic' textLength="5.75" lengthAdjust="spacingAndGlyphs">p</text>
<text x="512.37" y="725.4" style='font-size:9.85px;stroke-width:0.08px;font-style:italic' textLength="15.64" lengthAdjust="spacingAndGlyphs">W−</text>
<text x="510.14" y="733.7" style='font-size:5.57px;stroke-width:0.08px' textLength="8.34" lengthAdjust="spacingAndGlyphs">⊥</text>
<text x="532.4" y="730.52" style='font-size:13.22px' textLength="31.95" lengthAdjust="spacingAndGlyphs">(GeV)</text>
<text x="355.3" y="596.3" transform="rotate(-90 355.3 596.3)" text-anchor="middle" dominant-baseline="central" style="font-size:12px;font-style:italic">R</text>
</svg></body></html>
